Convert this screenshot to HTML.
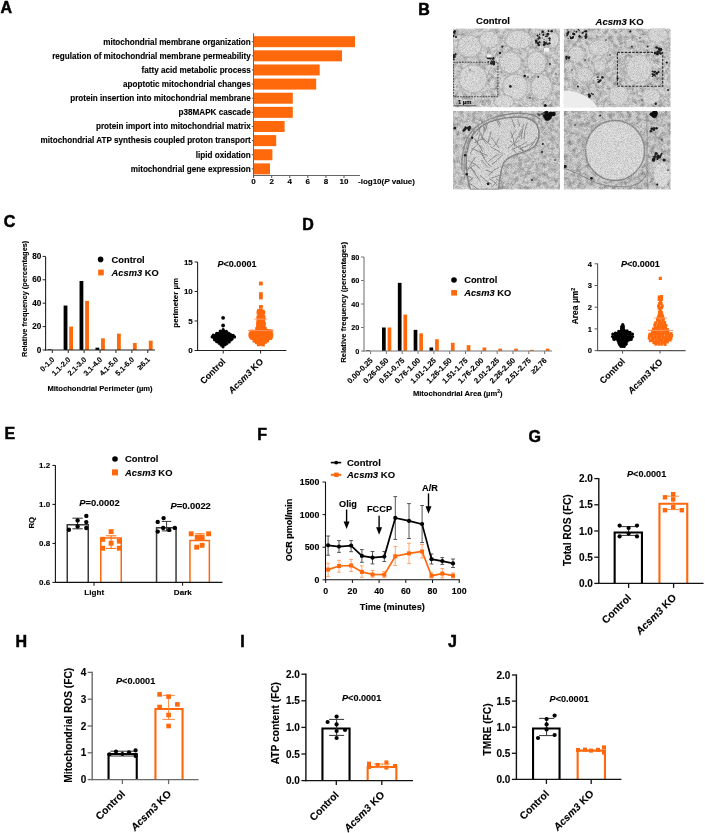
<!DOCTYPE html>
<html><head><meta charset="utf-8"><title>Figure</title>
<style>
html,body{margin:0;padding:0;background:#fff;}
body{width:705px;height:833px;overflow:hidden;}
svg{display:block;font-family:"Liberation Sans", sans-serif;will-change:transform;filter:blur(0.35px);}
text:not([stroke]){stroke:#000;stroke-width:0.12px;}
</style></head>
<body>
<svg width="705" height="833" viewBox="0 0 705 833">
<rect x="0" y="0" width="705" height="833" fill="#fff"/>
<text x="0.50" y="12.60" font-size="16" font-weight="bold" text-anchor="start" fill="#000" stroke="#000" stroke-width="0.5">A</text>
<text x="418.20" y="15.10" font-size="16" font-weight="bold" text-anchor="start" fill="#000" stroke="#000" stroke-width="0.5">B</text>
<text x="3.80" y="226.50" font-size="16" font-weight="bold" text-anchor="start" fill="#000" stroke="#000" stroke-width="0.5">C</text>
<text x="302.30" y="230.20" font-size="16" font-weight="bold" text-anchor="start" fill="#000" stroke="#000" stroke-width="0.5">D</text>
<text x="4.60" y="439.00" font-size="16" font-weight="bold" text-anchor="start" fill="#000" stroke="#000" stroke-width="0.5">E</text>
<text x="257.30" y="440.00" font-size="16" font-weight="bold" text-anchor="start" fill="#000" stroke="#000" stroke-width="0.5">F</text>
<text x="528.60" y="442.00" font-size="16" font-weight="bold" text-anchor="start" fill="#000" stroke="#000" stroke-width="0.5">G</text>
<text x="15.60" y="647.40" font-size="16" font-weight="bold" text-anchor="start" fill="#000" stroke="#000" stroke-width="0.5">H</text>
<text x="240.20" y="647.20" font-size="16" font-weight="bold" text-anchor="start" fill="#000" stroke="#000" stroke-width="0.5">I</text>
<text x="448.00" y="647.40" font-size="16" font-weight="bold" text-anchor="start" fill="#000" stroke="#000" stroke-width="0.5">J</text>
<rect x="254.00" y="36.20" width="101.00" height="11.00" fill="#FF680B"/>
<text x="250.80" y="44.50" font-size="8.15" font-weight="bold" text-anchor="end" fill="#000">mitochondrial membrane organization</text>
<line x1="251.80" y1="41.70" x2="253.50" y2="41.70" stroke="#555" stroke-width="1.0"/>
<rect x="254.00" y="50.33" width="88.00" height="11.00" fill="#FF680B"/>
<text x="250.80" y="58.63" font-size="8.15" font-weight="bold" text-anchor="end" fill="#000">regulation of mitochondrial membrane permeability</text>
<line x1="251.80" y1="55.83" x2="253.50" y2="55.83" stroke="#555" stroke-width="1.0"/>
<rect x="254.00" y="64.46" width="65.70" height="11.00" fill="#FF680B"/>
<text x="250.80" y="72.76" font-size="8.15" font-weight="bold" text-anchor="end" fill="#000">fatty acid metabolic process</text>
<line x1="251.80" y1="69.96" x2="253.50" y2="69.96" stroke="#555" stroke-width="1.0"/>
<rect x="254.00" y="78.59" width="62.20" height="11.00" fill="#FF680B"/>
<text x="250.80" y="86.89" font-size="8.15" font-weight="bold" text-anchor="end" fill="#000">apoptotic mitochondrial changes</text>
<line x1="251.80" y1="84.09" x2="253.50" y2="84.09" stroke="#555" stroke-width="1.0"/>
<rect x="254.00" y="92.72" width="38.80" height="11.00" fill="#FF680B"/>
<text x="250.80" y="101.02" font-size="8.15" font-weight="bold" text-anchor="end" fill="#000">protein insertion into mitochondrial membrane</text>
<line x1="251.80" y1="98.22" x2="253.50" y2="98.22" stroke="#555" stroke-width="1.0"/>
<rect x="254.00" y="106.85" width="38.80" height="11.00" fill="#FF680B"/>
<text x="250.80" y="115.15" font-size="8.15" font-weight="bold" text-anchor="end" fill="#000">p38MAPK cascade</text>
<line x1="251.80" y1="112.35" x2="253.50" y2="112.35" stroke="#555" stroke-width="1.0"/>
<rect x="254.00" y="120.98" width="30.60" height="11.00" fill="#FF680B"/>
<text x="250.80" y="129.28" font-size="8.15" font-weight="bold" text-anchor="end" fill="#000">protein import into mitochondrial matrix</text>
<line x1="251.80" y1="126.48" x2="253.50" y2="126.48" stroke="#555" stroke-width="1.0"/>
<rect x="254.00" y="135.11" width="22.20" height="11.00" fill="#FF680B"/>
<text x="250.80" y="143.41" font-size="8.15" font-weight="bold" text-anchor="end" fill="#000">mitochondrial ATP synthesis coupled proton transport</text>
<line x1="251.80" y1="140.61" x2="253.50" y2="140.61" stroke="#555" stroke-width="1.0"/>
<rect x="254.00" y="149.24" width="18.40" height="11.00" fill="#FF680B"/>
<text x="250.80" y="157.54" font-size="8.15" font-weight="bold" text-anchor="end" fill="#000">lipid oxidation</text>
<line x1="251.80" y1="154.74" x2="253.50" y2="154.74" stroke="#555" stroke-width="1.0"/>
<rect x="254.00" y="163.37" width="16.00" height="11.00" fill="#FF680B"/>
<text x="250.80" y="171.67" font-size="8.15" font-weight="bold" text-anchor="end" fill="#000">mitochondrial gene expression</text>
<line x1="251.80" y1="168.87" x2="253.50" y2="168.87" stroke="#555" stroke-width="1.0"/>
<line x1="253.50" y1="33.30" x2="253.50" y2="177.00" stroke="#666" stroke-width="1.0"/>
<line x1="253.00" y1="175.50" x2="360.00" y2="175.50" stroke="#666" stroke-width="1.0"/>
<line x1="253.60" y1="175.50" x2="253.60" y2="178.00" stroke="#555" stroke-width="1.0"/>
<text x="253.60" y="184.40" font-size="8.0" font-weight="bold" text-anchor="middle" fill="#000">0</text>
<line x1="271.68" y1="175.50" x2="271.68" y2="178.00" stroke="#555" stroke-width="1.0"/>
<text x="271.68" y="184.40" font-size="8.0" font-weight="bold" text-anchor="middle" fill="#000">2</text>
<line x1="289.76" y1="175.50" x2="289.76" y2="178.00" stroke="#555" stroke-width="1.0"/>
<text x="289.76" y="184.40" font-size="8.0" font-weight="bold" text-anchor="middle" fill="#000">4</text>
<line x1="307.84" y1="175.50" x2="307.84" y2="178.00" stroke="#555" stroke-width="1.0"/>
<text x="307.84" y="184.40" font-size="8.0" font-weight="bold" text-anchor="middle" fill="#000">6</text>
<line x1="325.92" y1="175.50" x2="325.92" y2="178.00" stroke="#555" stroke-width="1.0"/>
<text x="325.92" y="184.40" font-size="8.0" font-weight="bold" text-anchor="middle" fill="#000">8</text>
<line x1="344.00" y1="175.50" x2="344.00" y2="178.00" stroke="#555" stroke-width="1.0"/>
<text x="344.00" y="184.40" font-size="8.0" font-weight="bold" text-anchor="middle" fill="#000">10</text>
<text x="358.00" y="184.40" font-size="8.0" font-weight="bold" text-anchor="start" fill="#000">-log10(<tspan font-style="italic">P</tspan> value)</text>
<text x="493.00" y="24.40" font-size="9.5" font-weight="bold" text-anchor="middle" fill="#000">Control</text>
<text x="619.60" y="24.60" font-size="9.5" font-weight="bold" text-anchor="middle" fill="#000"><tspan font-style="italic">Acsm3</tspan> KO</text>
<defs>
<filter id="tex1" x="0" y="0" width="100%" height="100%" color-interpolation-filters="sRGB">
<feTurbulence type="fractalNoise" baseFrequency="0.22" numOctaves="3" seed="7"/>
<feColorMatrix type="matrix" values="0 0 0 0 0  0 0 0 0 0  0 0 0 0 0  1.6 0 0 0 -0.62"/>
</filter>
<filter id="tex2" x="0" y="0" width="100%" height="100%" color-interpolation-filters="sRGB">
<feTurbulence type="fractalNoise" baseFrequency="1.3" numOctaves="1" seed="11"/>
<feColorMatrix type="matrix" values="0 0 0 0 0  0 0 0 0 0  0 0 0 0 0  1.4 0 0 0 -0.52"/>
</filter>
<filter id="tex3" x="0" y="0" width="100%" height="100%" color-interpolation-filters="sRGB">
<feTurbulence type="fractalNoise" baseFrequency="0.5" numOctaves="2" seed="23"/>
<feColorMatrix type="matrix" values="0 0 0 0 1  0 0 0 0 1  0 0 0 0 1  1.5 0 0 0 -0.62"/>
</filter>
<filter id="bl" x="-50%" y="-50%" width="200%" height="200%"><feGaussianBlur stdDeviation="0.6"/></filter>
<filter id="bs" x="-50%" y="-50%" width="200%" height="200%"><feGaussianBlur stdDeviation="0.45"/></filter>
<filter id="bl2" x="-50%" y="-50%" width="200%" height="200%"><feGaussianBlur stdDeviation="1.4"/></filter>
<filter id="bl3" x="-50%" y="-50%" width="200%" height="200%"><feGaussianBlur stdDeviation="2.5"/></filter>
<clipPath id="cTL"><rect x="453" y="28.5" width="107" height="78.7"/></clipPath>
<clipPath id="cTR"><rect x="563.8" y="28.5" width="106.8" height="78.7"/></clipPath>
<clipPath id="cBL"><rect x="453" y="110.9" width="107" height="78.6"/></clipPath>
<clipPath id="cBR"><rect x="563.8" y="110.9" width="106.8" height="78.6"/></clipPath>
</defs>
<g clip-path="url(#cTL)">
<rect x="453.00" y="28.50" width="107.00" height="78.70" fill="#dddddd"/>
<rect x="453" y="28.5" width="107" height="78.7" fill="#000" opacity="0.42" filter="url(#tex1)"/>
<g filter="url(#bl)"><ellipse cx="469.6" cy="46.2" rx="12.0" ry="11.0" fill="#dfdfdf" stroke="#c0c0c0" stroke-width="1.3"/><ellipse cx="489.2" cy="39.7" rx="10.0" ry="8.5" fill="#dfdfdf" stroke="#c0c0c0" stroke-width="1.3"/><ellipse cx="518.5" cy="39.7" rx="13.0" ry="9.5" fill="#dfdfdf" stroke="#c0c0c0" stroke-width="1.3"/><ellipse cx="510.4" cy="62.5" rx="11.0" ry="11.0" fill="#dfdfdf" stroke="#c0c0c0" stroke-width="1.3"/><ellipse cx="536.5" cy="62.5" rx="9.5" ry="11.5" fill="#dfdfdf" stroke="#c0c0c0" stroke-width="1.3"/><ellipse cx="472.8" cy="78.8" rx="14.0" ry="14.0" fill="#dfdfdf" stroke="#c0c0c0" stroke-width="1.3"/><ellipse cx="515.3" cy="87.0" rx="12.5" ry="13.0" fill="#dfdfdf" stroke="#c0c0c0" stroke-width="1.3"/><ellipse cx="541.4" cy="87.0" rx="10.5" ry="12.5" fill="#dfdfdf" stroke="#c0c0c0" stroke-width="1.3"/><ellipse cx="503.8" cy="101.7" rx="10.0" ry="7.0" fill="#dfdfdf" stroke="#c0c0c0" stroke-width="1.3"/><ellipse cx="553.0" cy="40.0" rx="6.0" ry="8.0" fill="#dfdfdf" stroke="#c0c0c0" stroke-width="1.3"/></g><g filter="url(#bl)"><ellipse cx="473.0" cy="79.0" rx="8.0" ry="8.0" fill="none" stroke="#d2d2d2" stroke-width="1.0"/><ellipse cx="470.0" cy="46.0" rx="6.0" ry="5.0" fill="none" stroke="#d2d2d2" stroke-width="1.0"/></g>
<rect x="453" y="28.5" width="107" height="78.7" fill="#000" opacity="0.34" filter="url(#tex2)"/>
<rect x="453" y="28.5" width="107" height="78.7" fill="#fff" opacity="0.25" filter="url(#tex3)"/>
<g filter="url(#bs)" fill="#1e1e1e"><circle cx="537.8" cy="42.9" r="1.2"/><circle cx="539.8" cy="37.9" r="0.9"/><circle cx="546.6" cy="42.0" r="0.6"/><circle cx="536.0" cy="42.7" r="0.9"/><circle cx="548.5" cy="31.0" r="0.9"/><circle cx="547.8" cy="34.2" r="1.4"/><circle cx="550.8" cy="31.4" r="0.5"/><circle cx="544.7" cy="44.1" r="0.8"/><circle cx="539.2" cy="36.9" r="0.5"/><circle cx="539.3" cy="37.1" r="0.9"/><circle cx="539.5" cy="34.2" r="0.7"/><circle cx="543.3" cy="35.1" r="0.5"/><circle cx="549.7" cy="38.8" r="1.1"/><circle cx="538.7" cy="44.9" r="1.3"/><circle cx="537.6" cy="35.7" r="1.1"/><circle cx="547.6" cy="44.1" r="0.9"/><circle cx="549.6" cy="40.4" r="0.8"/><circle cx="545.5" cy="43.4" r="1.3"/><circle cx="544.1" cy="39.2" r="0.5"/><circle cx="539.6" cy="42.2" r="0.9"/><circle cx="538.4" cy="38.7" r="1.1"/><circle cx="547.0" cy="36.2" r="0.9"/><circle cx="544.1" cy="41.9" r="1.0"/><circle cx="542.2" cy="37.9" r="0.5"/><circle cx="536.2" cy="40.8" r="1.4"/><circle cx="545.6" cy="36.5" r="0.7"/><circle cx="544.0" cy="44.7" r="1.2"/><circle cx="544.7" cy="43.0" r="0.7"/><circle cx="544.2" cy="44.3" r="1.0"/><circle cx="543.3" cy="34.8" r="1.0"/><circle cx="551.8" cy="31.1" r="1.2"/><circle cx="549.4" cy="43.4" r="1.2"/><circle cx="549.3" cy="38.3" r="1.0"/><circle cx="542.7" cy="31.8" r="1.3"/></g><g filter="url(#bs)" fill="#1e1e1e"><circle cx="455.9" cy="37.0" r="0.6"/><circle cx="453.3" cy="36.0" r="1.2"/><circle cx="455.0" cy="31.3" r="1.1"/><circle cx="454.8" cy="33.7" r="0.7"/><circle cx="454.3" cy="32.0" r="1.2"/><circle cx="456.0" cy="37.0" r="1.0"/><circle cx="454.3" cy="30.9" r="0.6"/><circle cx="453.1" cy="32.7" r="0.9"/></g><g filter="url(#bs)" fill="#1e1e1e"><circle cx="453.7" cy="54.9" r="0.9"/><circle cx="454.8" cy="55.8" r="0.7"/><circle cx="453.0" cy="57.9" r="0.8"/><circle cx="453.7" cy="59.5" r="1.0"/><circle cx="455.5" cy="54.3" r="1.1"/><circle cx="453.5" cy="55.8" r="1.3"/><circle cx="454.6" cy="56.9" r="1.1"/><circle cx="453.2" cy="57.1" r="1.1"/></g><g filter="url(#bs)" fill="#1e1e1e"><circle cx="488.4" cy="58.3" r="1.0"/><circle cx="487.7" cy="58.0" r="1.0"/><circle cx="493.8" cy="63.9" r="1.3"/><circle cx="488.3" cy="61.8" r="0.8"/><circle cx="487.9" cy="58.3" r="0.8"/><circle cx="493.9" cy="64.1" r="1.3"/><circle cx="492.9" cy="59.0" r="0.9"/><circle cx="491.5" cy="63.4" r="1.4"/><circle cx="493.5" cy="58.2" r="1.1"/><circle cx="491.9" cy="61.5" r="0.8"/><circle cx="490.3" cy="58.2" r="1.4"/><circle cx="493.4" cy="61.9" r="0.9"/><circle cx="493.8" cy="62.1" r="1.4"/><circle cx="493.3" cy="61.6" r="1.0"/><circle cx="491.3" cy="60.9" r="0.7"/><circle cx="488.9" cy="64.0" r="0.6"/></g><g filter="url(#bs)" fill="#1a1a1a"><circle cx="502.4" cy="46.6" r="1.1"/><circle cx="500.0" cy="53.0" r="1.2"/><circle cx="524.7" cy="76.0" r="1.3"/><circle cx="510.4" cy="86.4" r="1.3"/><circle cx="545.3" cy="105.4" r="1.5"/><circle cx="550.0" cy="64.0" r="0.9"/><circle cx="538.2" cy="76.8" r="0.9"/><circle cx="470.0" cy="70.0" r="0.6"/><circle cx="530.0" cy="98.0" r="0.7"/><circle cx="528.0" cy="77.0" r="0.8"/><circle cx="556.0" cy="74.0" r="0.7"/></g><g filter="url(#bl)" fill="#f4f4f4"><rect x="544" y="48" width="5" height="3.5"/><rect x="487" y="54.5" width="4.5" height="3"/></g>
</g>
<rect x="453.6" y="62.3" width="44.3" height="34.4" fill="none" stroke="#3c3c3c" stroke-width="0.9" stroke-dasharray="1.7,1.1"/>
<text x="458.00" y="104.00" font-size="5.8" font-weight="bold" text-anchor="start" fill="#000">1 µm</text>
<line x1="453.50" y1="105.60" x2="476.00" y2="105.60" stroke="#777" stroke-width="1.3"/>
<g clip-path="url(#cTR)">
<rect x="563.80" y="28.50" width="106.80" height="78.70" fill="#dbdbdb"/>
<rect x="563.8" y="28.5" width="106.8" height="78.7" fill="#000" opacity="0.42" filter="url(#tex1)"/>
<g filter="url(#bl)"><ellipse cx="639.1" cy="69.0" rx="12.5" ry="14.0" fill="#dddddd" stroke="#c4c4c4" stroke-width="1.1"/><ellipse cx="599.1" cy="47.8" rx="10.0" ry="8.0" fill="#dddddd" stroke="#c4c4c4" stroke-width="1.1"/><ellipse cx="618.7" cy="95.2" rx="10.0" ry="10.0" fill="#dddddd" stroke="#c4c4c4" stroke-width="1.1"/><ellipse cx="651.3" cy="96.8" rx="9.0" ry="8.0" fill="#dddddd" stroke="#c4c4c4" stroke-width="1.1"/><ellipse cx="657.9" cy="34.8" rx="10.0" ry="8.0" fill="#dddddd" stroke="#c4c4c4" stroke-width="1.1"/><ellipse cx="576.3" cy="54.4" rx="8.0" ry="8.0" fill="#dddddd" stroke="#c4c4c4" stroke-width="1.1"/><ellipse cx="585.0" cy="75.0" rx="8.0" ry="7.0" fill="#dddddd" stroke="#c4c4c4" stroke-width="1.1"/><ellipse cx="600.0" cy="66.0" rx="6.0" ry="6.0" fill="#dddddd" stroke="#c4c4c4" stroke-width="1.1"/></g><path d="M617,56 C620,64 622,74 626,83" fill="none" stroke="#bbbbbb" stroke-width="2.5" filter="url(#bl2)"/>
<rect x="563.8" y="28.5" width="106.8" height="78.7" fill="#000" opacity="0.34" filter="url(#tex2)"/>
<rect x="563.8" y="28.5" width="106.8" height="78.7" fill="#fff" opacity="0.25" filter="url(#tex3)"/>
<g filter="url(#bs)" fill="#1e1e1e"><circle cx="579.5" cy="36.2" r="1.2"/><circle cx="585.8" cy="36.2" r="1.3"/><circle cx="567.6" cy="33.7" r="1.4"/><circle cx="580.0" cy="37.6" r="0.7"/><circle cx="576.4" cy="31.7" r="1.0"/><circle cx="578.5" cy="29.6" r="0.8"/><circle cx="572.6" cy="37.7" r="1.2"/><circle cx="570.2" cy="36.7" r="0.7"/><circle cx="579.3" cy="30.6" r="0.6"/><circle cx="584.4" cy="31.4" r="0.8"/><circle cx="586.6" cy="37.4" r="0.8"/><circle cx="586.2" cy="34.4" r="1.1"/><circle cx="571.1" cy="38.0" r="1.2"/><circle cx="586.3" cy="37.5" r="0.8"/><circle cx="574.2" cy="31.0" r="0.7"/><circle cx="568.3" cy="32.2" r="1.1"/><circle cx="567.1" cy="35.6" r="0.9"/><circle cx="573.2" cy="36.9" r="1.0"/><circle cx="573.3" cy="33.8" r="1.2"/><circle cx="568.1" cy="38.3" r="0.6"/><circle cx="582.0" cy="37.1" r="0.6"/><circle cx="582.8" cy="32.8" r="1.1"/><circle cx="567.2" cy="29.9" r="0.7"/><circle cx="586.1" cy="31.3" r="1.2"/><circle cx="585.6" cy="38.0" r="0.9"/><circle cx="574.1" cy="34.2" r="1.2"/></g><g filter="url(#bs)" fill="#1e1e1e"><circle cx="660.8" cy="53.3" r="1.1"/><circle cx="656.6" cy="47.5" r="1.3"/><circle cx="658.3" cy="52.8" r="1.0"/><circle cx="660.7" cy="49.4" r="1.4"/><circle cx="660.3" cy="50.4" r="1.1"/><circle cx="660.0" cy="48.9" r="1.2"/><circle cx="660.9" cy="49.4" r="1.4"/><circle cx="660.0" cy="53.4" r="0.9"/><circle cx="655.2" cy="53.1" r="1.4"/><circle cx="658.1" cy="48.2" r="0.8"/><circle cx="659.6" cy="49.5" r="1.6"/><circle cx="659.2" cy="48.9" r="1.3"/><circle cx="657.4" cy="54.0" r="1.5"/><circle cx="658.6" cy="52.0" r="1.3"/><circle cx="660.9" cy="54.3" r="0.6"/><circle cx="657.4" cy="51.7" r="0.9"/></g><g filter="url(#bs)" fill="#1e1e1e"><circle cx="654.6" cy="71.9" r="1.1"/><circle cx="652.6" cy="74.2" r="0.9"/><circle cx="652.5" cy="74.0" r="0.6"/><circle cx="655.5" cy="71.4" r="0.7"/><circle cx="655.4" cy="76.0" r="0.7"/><circle cx="653.8" cy="74.8" r="1.4"/><circle cx="656.6" cy="73.4" r="1.4"/><circle cx="652.4" cy="76.2" r="0.8"/><circle cx="653.2" cy="71.7" r="0.8"/><circle cx="658.5" cy="72.1" r="1.1"/><circle cx="657.1" cy="73.2" r="1.0"/><circle cx="652.5" cy="71.4" r="0.8"/></g><g filter="url(#bs)" fill="#1e1e1e"><circle cx="599.8" cy="80.9" r="1.1"/><circle cx="597.9" cy="77.1" r="0.9"/><circle cx="598.6" cy="81.9" r="1.2"/><circle cx="600.6" cy="80.3" r="1.1"/><circle cx="597.9" cy="79.6" r="0.7"/><circle cx="602.4" cy="77.4" r="1.3"/></g><g filter="url(#bs)" fill="#1e1e1e"><circle cx="589.6" cy="96.9" r="1.1"/><circle cx="593.1" cy="94.4" r="0.8"/><circle cx="588.9" cy="94.6" r="1.2"/><circle cx="588.8" cy="96.2" r="0.8"/><circle cx="589.8" cy="95.7" r="1.3"/><circle cx="591.7" cy="93.6" r="0.8"/></g><g filter="url(#bs)" fill="#1e1e1e"><circle cx="566.4" cy="58.8" r="1.1"/><circle cx="569.8" cy="57.1" r="0.8"/><circle cx="568.9" cy="58.6" r="0.8"/><circle cx="568.7" cy="57.6" r="1.2"/><circle cx="566.5" cy="56.9" r="1.3"/></g><g filter="url(#bs)" fill="#1a1a1a"><circle cx="630.3" cy="31.6" r="1.1"/><circle cx="666.8" cy="62.5" r="1.1"/><circle cx="577.9" cy="86.4" r="1.0"/><circle cx="617.6" cy="78.4" r="1.1"/><circle cx="631.9" cy="46.6" r="0.9"/><circle cx="647.7" cy="46.6" r="0.9"/><circle cx="655.7" cy="103.8" r="1.2"/><circle cx="585.0" cy="60.0" r="0.7"/><circle cx="642.0" cy="100.0" r="0.7"/><circle cx="668.0" cy="90.0" r="0.9"/><circle cx="610.0" cy="55.0" r="0.7"/><circle cx="572.0" cy="70.0" r="0.7"/><circle cx="606.0" cy="40.0" r="0.7"/><circle cx="640.0" cy="38.0" r="0.7"/></g><path d="M563.8,90.5 C572,90.5 582,93 589,98.5 C593,101.5 596,104.5 598,108 L563.8,108 Z" fill="#ededed" filter="url(#bl)"/>
</g>
<rect x="617.4" y="52.4" width="45.3" height="33.9" fill="none" stroke="#2a2a2a" stroke-width="1.1" stroke-dasharray="2.4,1.3"/>
<clipPath id="cMito"><path d="M470.6,189.5 C467,180 465.5,162 466.7,153.7 C468,145 470,140 472,136 C476,130 482,125 489.7,121.9 C496,119.5 505,117.5 516,117 C526,116.8 534,119 537.5,126 C540,132 539.5,139 535.5,145.5 C531,150 524,152 516,154.5 C510,156.5 506,159 503.5,163.5 C501,168 500,176 498.5,189.5 Z"/></clipPath>
<g clip-path="url(#cBL)">
<rect x="453.00" y="110.90" width="107.00" height="78.60" fill="#d8d8d8"/>
<rect x="453" y="110.9" width="107" height="78.6" fill="#000" opacity="0.42" filter="url(#tex1)"/>

<g filter="url(#bl)">
<path d="M470.6,189.5 C467,180 465.5,162 466.7,153.7 C468,145 470,140 472,136 C476,130 482,125 489.7,121.9 C496,119.5 505,117.5 516,117 C526,116.8 534,119 537.5,126 C540,132 539.5,139 535.5,145.5 C531,150 524,152 516,154.5 C510,156.5 506,159 503.5,163.5 C501,168 500,176 498.5,189.5 Z" fill="#dcdcdc"/>
<g clip-path="url(#cMito)" stroke="#8c8c8c" stroke-width="0.9" fill="none"><path d="M508.2,114.3 Q513.0,119.1 514.7,127.2"/><path d="M493.6,115.3 Q497.6,121.9 499.8,126.9"/><path d="M490.2,146.7 Q495.9,149.1 502.8,154.2"/><path d="M536.9,136.9 Q534.3,143.5 529.3,148.2"/><path d="M499.2,153.8 Q494.6,155.8 488.3,161.5"/><path d="M480.5,134.5 Q483.3,140.6 486.5,144.0"/><path d="M474.4,138.9 Q477.7,144.8 483.7,148.9"/><path d="M475.4,139.3 Q480.5,146.7 482.8,151.8"/><path d="M479.9,113.6 Q483.8,122.1 487.2,128.9"/><path d="M479.6,149.9 Q481.4,154.2 485.3,158.0"/><path d="M480.8,152.5 Q484.4,159.9 490.9,167.4"/><path d="M480.6,125.0 Q480.4,130.3 476.2,135.4"/><path d="M474.8,164.6 Q468.1,168.6 462.7,174.3"/><path d="M477.3,113.1 Q477.2,119.7 480.2,125.3"/><path d="M519.5,151.5 Q526.3,154.7 530.9,157.6"/><path d="M472.5,139.8 Q467.0,142.0 463.6,143.6"/><path d="M470.8,166.9 Q473.3,170.4 475.9,173.6"/><path d="M480.1,175.6 Q485.6,180.8 492.0,184.5"/><path d="M489.2,178.7 Q493.7,180.9 497.6,185.3"/><path d="M480.7,116.1 Q481.3,122.9 485.3,131.9"/><path d="M516.1,129.9 Q513.4,133.6 510.9,138.0"/><path d="M468.5,161.1 Q476.4,163.5 480.4,169.2"/><path d="M491.6,137.5 Q493.9,141.5 499.1,148.0"/><path d="M496.0,178.7 Q501.5,181.6 502.9,181.7"/><path d="M527.4,122.3 Q524.4,128.7 524.0,138.9"/><path d="M497.4,180.6 Q493.7,185.7 491.7,187.1"/><path d="M517.7,119.4 Q518.9,124.4 520.0,126.6"/><path d="M471.6,117.2 Q470.8,122.1 473.7,130.4"/><path d="M490.9,131.8 Q490.2,136.5 488.1,142.8"/><path d="M485.9,170.1 Q488.4,170.7 493.1,173.1"/><path d="M533.9,141.8 Q529.7,145.5 521.7,147.9"/><path d="M464.3,173.6 Q470.1,177.2 472.7,178.8"/><path d="M480.2,132.7 Q477.6,140.4 476.9,144.8"/><path d="M475.5,156.8 Q472.0,162.4 467.4,170.0"/><path d="M493.6,114.2 Q498.4,120.0 500.6,125.1"/><path d="M474.4,120.3 Q476.9,126.9 481.7,135.5"/><path d="M470.1,166.5 Q473.9,172.3 479.9,180.7"/><path d="M523.8,123.7 Q522.0,132.1 521.0,139.1"/><path d="M521.6,128.9 Q519.4,135.3 514.3,143.8"/><path d="M519.5,148.7 Q524.2,150.8 527.5,153.7"/><path d="M488.9,116.9 Q488.3,123.2 485.0,130.8"/><path d="M472.8,178.2 Q470.3,179.8 466.9,182.6"/><path d="M519.0,145.3 Q522.3,147.6 524.0,153.8"/><path d="M519.4,140.7 Q514.3,143.0 507.8,148.3"/><path d="M533.7,149.7 Q528.0,155.2 524.7,159.3"/><path d="M499.0,167.4 Q491.8,170.5 488.6,175.3"/><path d="M502.6,154.8 Q497.3,160.8 491.8,164.4"/><path d="M510.7,131.1 Q513.8,139.6 514.9,146.6"/><path d="M484.7,126.2 Q484.3,132.8 481.8,139.6"/><path d="M510.0,140.9 Q518.3,147.4 523.7,150.8"/><path d="M522.6,130.9 Q519.9,135.7 519.3,137.7"/><path d="M507.2,172.0 Q500.6,175.5 490.9,178.2"/><path d="M512.4,148.3 Q516.8,153.4 521.5,160.4"/><path d="M481.6,159.8 Q483.1,162.8 488.0,167.5"/><path d="M482.3,137.7 Q485.1,140.2 490.7,145.1"/><path d="M499.2,137.4 Q497.3,143.9 493.2,146.9"/><path d="M473.2,177.3 Q468.9,182.2 465.4,184.0"/><path d="M533.1,149.7 Q529.8,152.8 525.0,156.7"/><path d="M471.5,148.1 Q479.6,152.4 486.9,155.3"/><path d="M477.1,144.6 Q472.6,148.3 470.3,153.4"/><path d="M527.0,141.9 Q519.6,146.5 512.5,149.2"/><path d="M464.9,181.9 Q473.3,184.4 478.2,189.3"/><path d="M466.2,124.5 Q468.4,129.1 472.5,134.8"/><path d="M484.4,138.6 Q480.0,139.1 473.9,143.0"/></g>
<path d="M470.6,189.5 C467,180 465.5,162 466.7,153.7 C468,145 470,140 472,136 C476,130 482,125 489.7,121.9 C496,119.5 505,117.5 516,117 C526,116.8 534,119 537.5,126 C540,132 539.5,139 535.5,145.5 C531,150 524,152 516,154.5 C510,156.5 506,159 503.5,163.5 C501,168 500,176 498.5,189.5 Z" fill="none" stroke="#8a8a8a" stroke-width="1.5"/>
<path d="M462,170 C461,150 466,136 476,127 C486,119 500,114 518,113.2 C530,113 538,116 542,121" fill="none" stroke="#8e8e8e" stroke-width="1.2"/>
<path d="M464.5,178 C463,160 466,145 470,138" fill="none" stroke="#9a9a9a" stroke-width="1"/>
<path d="M505,160 C515,170 530,175 545,172 C552,170 556,165 558,160" fill="none" stroke="#bbbbbb" stroke-width="1"/>
<ellipse cx="548" cy="165" rx="10" ry="14" fill="none" stroke="#c6c6c6" stroke-width="1"/>
</g>

<rect x="453" y="110.9" width="107" height="78.6" fill="#000" opacity="0.34" filter="url(#tex2)"/>
<rect x="453" y="110.9" width="107" height="78.6" fill="#fff" opacity="0.25" filter="url(#tex3)"/>
<g filter="url(#bs)" fill="#111"><circle cx="546.5" cy="119.2" r="1.6"/><circle cx="550.8" cy="113.1" r="1.7"/><circle cx="553.5" cy="114.0" r="2.3"/><circle cx="548.6" cy="115.7" r="2.1"/><circle cx="546.2" cy="118.3" r="1.5"/><circle cx="546.6" cy="112.6" r="1.8"/><circle cx="548.2" cy="118.8" r="1.9"/><circle cx="545.5" cy="114.3" r="2.8"/><circle cx="545.1" cy="116.8" r="1.9"/><circle cx="550.4" cy="114.9" r="2.4"/><circle cx="549.0" cy="117.0" r="2.7"/><circle cx="549.7" cy="113.5" r="1.5"/></g><g filter="url(#bs)" fill="#555"><circle cx="538.9" cy="114.9" r="0.9"/><circle cx="539.6" cy="114.5" r="1.1"/><circle cx="538.1" cy="115.8" r="0.6"/><circle cx="538.4" cy="114.0" r="0.7"/><circle cx="541.9" cy="113.9" r="1.2"/><circle cx="543.6" cy="113.5" r="1.2"/><circle cx="542.5" cy="116.0" r="0.6"/><circle cx="539.7" cy="115.8" r="0.8"/><circle cx="537.8" cy="113.9" r="0.8"/><circle cx="542.3" cy="114.1" r="0.9"/></g><g filter="url(#bs)" fill="#1e1e1e"><circle cx="469.7" cy="127.0" r="1.2"/><circle cx="463.3" cy="130.9" r="0.6"/><circle cx="469.0" cy="129.7" r="1.3"/><circle cx="470.0" cy="128.0" r="0.9"/><circle cx="467.7" cy="128.1" r="0.8"/><circle cx="463.8" cy="130.4" r="1.3"/><circle cx="468.4" cy="127.9" r="1.3"/><circle cx="466.1" cy="127.9" r="1.0"/><circle cx="465.4" cy="127.3" r="1.1"/><circle cx="464.9" cy="129.3" r="1.3"/></g><g filter="url(#bs)" fill="#1a1a1a"><circle cx="454.8" cy="128.2" r="1.4"/><circle cx="472.2" cy="137.8" r="1.2"/><circle cx="465.1" cy="155.2" r="1.2"/><circle cx="466.7" cy="174.3" r="1.2"/><circle cx="488.1" cy="183.8" r="1.4"/><circle cx="542.9" cy="144.1" r="1.0"/><circle cx="542.1" cy="152.0" r="0.9"/><circle cx="532.0" cy="180.0" r="0.9"/><circle cx="555.0" cy="160.0" r="0.8"/></g>
</g>
<g clip-path="url(#cBR)">
<rect x="563.80" y="110.90" width="106.80" height="78.60" fill="#d6d6d6"/>
<rect x="563.8" y="110.9" width="106.8" height="78.6" fill="#000" opacity="0.42" filter="url(#tex1)"/>

<g filter="url(#bl)">
<ellipse cx="615" cy="150.5" rx="29.5" ry="30" fill="#e0e0e0" stroke="#8e8e8e" stroke-width="1.3"/>
<path d="M563,168 C572,170 582,176 592,181 C602,186 618,188 632,186 C640,184 646,178 648,170" fill="none" stroke="#939393" stroke-width="1.1"/>
<path d="M646,113 C649,135 645,160 648,190" fill="none" stroke="#9c9c9c" stroke-width="1.1"/>
<path d="M575,112 C578,130 584,142 586,150" fill="none" stroke="#bababa" stroke-width="0.9"/>
<ellipse cx="662" cy="175" rx="8" ry="12" fill="#e3e3e3"/>
</g>

<rect x="563.8" y="110.9" width="106.8" height="78.6" fill="#000" opacity="0.34" filter="url(#tex2)"/>
<rect x="563.8" y="110.9" width="106.8" height="78.6" fill="#fff" opacity="0.25" filter="url(#tex3)"/>
<g filter="url(#bs)" fill="#111"><circle cx="653.1" cy="114.9" r="2.0"/><circle cx="655.1" cy="113.0" r="2.4"/><circle cx="655.3" cy="113.4" r="2.5"/><circle cx="653.9" cy="113.2" r="2.3"/><circle cx="654.3" cy="115.3" r="2.7"/><circle cx="651.6" cy="114.2" r="1.9"/></g><g filter="url(#bs)" fill="#1e1e1e"><circle cx="653.5" cy="129.7" r="1.1"/><circle cx="650.9" cy="131.3" r="1.3"/><circle cx="654.1" cy="128.6" r="1.0"/><circle cx="651.8" cy="129.0" r="1.4"/><circle cx="656.5" cy="128.2" r="1.3"/><circle cx="653.7" cy="129.5" r="0.8"/><circle cx="654.2" cy="129.8" r="1.1"/><circle cx="654.1" cy="128.5" r="1.2"/></g><g filter="url(#bs)" fill="#1e1e1e"><circle cx="658.0" cy="156.9" r="1.7"/><circle cx="658.1" cy="156.6" r="1.3"/><circle cx="655.0" cy="156.6" r="1.4"/><circle cx="661.7" cy="153.7" r="1.0"/><circle cx="654.0" cy="158.7" r="1.5"/><circle cx="653.5" cy="159.9" r="1.8"/><circle cx="660.2" cy="157.3" r="0.9"/><circle cx="653.2" cy="156.7" r="0.8"/><circle cx="655.1" cy="154.7" r="0.7"/><circle cx="658.1" cy="156.1" r="1.6"/><circle cx="658.7" cy="157.5" r="1.2"/><circle cx="660.3" cy="156.2" r="1.0"/><circle cx="664.0" cy="160.0" r="1.6"/><circle cx="660.8" cy="155.2" r="1.0"/><circle cx="656.2" cy="153.5" r="1.5"/><circle cx="657.4" cy="158.9" r="1.1"/></g><g filter="url(#bs)" fill="#1a1a1a"><circle cx="565.2" cy="166.4" r="1.6"/><circle cx="591.4" cy="178.3" r="1.4"/><circle cx="600.1" cy="115.5" r="0.9"/><circle cx="657.3" cy="184.6" r="1.1"/><circle cx="668.0" cy="170.0" r="0.8"/><circle cx="662.0" cy="140.0" r="0.7"/><circle cx="575.0" cy="125.0" r="0.7"/></g>
</g>
<line x1="42.60" y1="350.00" x2="45.60" y2="350.00" stroke="#222" stroke-width="1.0"/>
<text x="41.40" y="352.50" font-size="8.2" font-weight="bold" text-anchor="end" fill="#000">0</text>
<line x1="42.60" y1="326.60" x2="45.60" y2="326.60" stroke="#222" stroke-width="1.0"/>
<text x="41.40" y="329.10" font-size="8.2" font-weight="bold" text-anchor="end" fill="#000">20</text>
<line x1="42.60" y1="303.20" x2="45.60" y2="303.20" stroke="#222" stroke-width="1.0"/>
<text x="41.40" y="305.70" font-size="8.2" font-weight="bold" text-anchor="end" fill="#000">40</text>
<line x1="42.60" y1="279.80" x2="45.60" y2="279.80" stroke="#222" stroke-width="1.0"/>
<text x="41.40" y="282.30" font-size="8.2" font-weight="bold" text-anchor="end" fill="#000">60</text>
<line x1="42.60" y1="256.40" x2="45.60" y2="256.40" stroke="#222" stroke-width="1.0"/>
<text x="41.40" y="258.90" font-size="8.2" font-weight="bold" text-anchor="end" fill="#000">80</text>
<rect x="47.70" y="349.30" width="3.80" height="0.70" fill="#000"/>
<line x1="52.30" y1="350.00" x2="52.30" y2="353.00" stroke="#222" stroke-width="1.0"/>
<text x="55.00" y="360.00" font-size="7.4" font-weight="bold" text-anchor="end" fill="#000" transform="rotate(-45 55.00 360.00)">0-1.0</text>
<rect x="63.62" y="305.54" width="3.80" height="44.46" fill="#000"/>
<rect x="69.22" y="326.60" width="3.80" height="23.40" fill="#FF680B"/>
<line x1="68.22" y1="350.00" x2="68.22" y2="353.00" stroke="#222" stroke-width="1.0"/>
<text x="70.92" y="360.00" font-size="7.4" font-weight="bold" text-anchor="end" fill="#000" transform="rotate(-45 70.92 360.00)">1.1-2.0</text>
<rect x="79.54" y="280.97" width="3.80" height="69.03" fill="#000"/>
<rect x="85.14" y="300.86" width="3.80" height="49.14" fill="#FF680B"/>
<line x1="84.14" y1="350.00" x2="84.14" y2="353.00" stroke="#222" stroke-width="1.0"/>
<text x="86.84" y="360.00" font-size="7.4" font-weight="bold" text-anchor="end" fill="#000" transform="rotate(-45 86.84 360.00)">2.1-3.0</text>
<rect x="95.46" y="347.66" width="3.80" height="2.34" fill="#000"/>
<rect x="101.06" y="338.30" width="3.80" height="11.70" fill="#FF680B"/>
<line x1="100.06" y1="350.00" x2="100.06" y2="353.00" stroke="#222" stroke-width="1.0"/>
<text x="102.76" y="360.00" font-size="7.4" font-weight="bold" text-anchor="end" fill="#000" transform="rotate(-45 102.76 360.00)">3.1-4.0</text>
<rect x="116.98" y="333.62" width="3.80" height="16.38" fill="#FF680B"/>
<line x1="115.98" y1="350.00" x2="115.98" y2="353.00" stroke="#222" stroke-width="1.0"/>
<text x="118.68" y="360.00" font-size="7.4" font-weight="bold" text-anchor="end" fill="#000" transform="rotate(-45 118.68 360.00)">4.1-5.0</text>
<rect x="132.90" y="342.98" width="3.80" height="7.02" fill="#FF680B"/>
<line x1="131.90" y1="350.00" x2="131.90" y2="353.00" stroke="#222" stroke-width="1.0"/>
<text x="134.60" y="360.00" font-size="7.4" font-weight="bold" text-anchor="end" fill="#000" transform="rotate(-45 134.60 360.00)">5.1-6.0</text>
<rect x="148.82" y="340.64" width="3.80" height="9.36" fill="#FF680B"/>
<line x1="147.82" y1="350.00" x2="147.82" y2="353.00" stroke="#222" stroke-width="1.0"/>
<text x="150.52" y="360.00" font-size="7.4" font-weight="bold" text-anchor="end" fill="#000" transform="rotate(-45 150.52 360.00)">≥6.1</text>
<line x1="45.60" y1="256.40" x2="45.60" y2="350.50" stroke="#222" stroke-width="1.1"/>
<line x1="45.10" y1="350.00" x2="155.00" y2="350.00" stroke="#222" stroke-width="1.1"/>
<text x="26.70" y="298.80" font-size="7.4" font-weight="bold" text-anchor="middle" fill="#000" transform="rotate(-90 26.70 298.80)">Relative frequency (percentages)</text>
<text x="100.00" y="390.50" font-size="7.6" font-weight="bold" text-anchor="middle" fill="#000">Mitochondrial Perimeter (µm)</text>
<circle cx="100.60" cy="259.40" r="2.80" fill="#000"/>
<text x="111.60" y="262.60" font-size="9.3" font-weight="bold" text-anchor="start" fill="#000">Control</text>
<rect x="98.20" y="269.60" width="5.60" height="5.80" fill="#FF680B"/>
<text x="111.60" y="275.70" font-size="9.3" font-weight="bold" text-anchor="start" fill="#000"><tspan font-style="italic">Acsm3</tspan> KO</text>
<line x1="361.00" y1="351.00" x2="364.00" y2="351.00" stroke="#777" stroke-width="1.0"/>
<text x="359.30" y="353.50" font-size="7.3" font-weight="bold" text-anchor="end" fill="#000">0</text>
<line x1="361.00" y1="327.50" x2="364.00" y2="327.50" stroke="#777" stroke-width="1.0"/>
<text x="359.30" y="330.00" font-size="7.3" font-weight="bold" text-anchor="end" fill="#000">20</text>
<line x1="361.00" y1="304.00" x2="364.00" y2="304.00" stroke="#777" stroke-width="1.0"/>
<text x="359.30" y="306.50" font-size="7.3" font-weight="bold" text-anchor="end" fill="#000">40</text>
<line x1="361.00" y1="280.50" x2="364.00" y2="280.50" stroke="#777" stroke-width="1.0"/>
<text x="359.30" y="283.00" font-size="7.3" font-weight="bold" text-anchor="end" fill="#000">60</text>
<line x1="361.00" y1="257.00" x2="364.00" y2="257.00" stroke="#777" stroke-width="1.0"/>
<text x="359.30" y="259.50" font-size="7.3" font-weight="bold" text-anchor="end" fill="#000">80</text>
<rect x="366.20" y="350.30" width="3.70" height="0.70" fill="#000"/>
<line x1="370.60" y1="351.00" x2="370.60" y2="354.00" stroke="#777" stroke-width="1.0"/>
<text x="373.30" y="361.00" font-size="7.7" font-weight="bold" text-anchor="end" fill="#000" transform="rotate(-45 373.30 361.00)">0.00-0.25</text>
<rect x="382.02" y="327.50" width="3.70" height="23.50" fill="#000"/>
<rect x="387.62" y="327.50" width="3.70" height="23.50" fill="#FF680B"/>
<line x1="386.42" y1="351.00" x2="386.42" y2="354.00" stroke="#777" stroke-width="1.0"/>
<text x="389.12" y="361.00" font-size="7.7" font-weight="bold" text-anchor="end" fill="#000" transform="rotate(-45 389.12 361.00)">0.26-0.50</text>
<rect x="397.84" y="282.85" width="3.70" height="68.15" fill="#000"/>
<rect x="403.44" y="314.57" width="3.70" height="36.43" fill="#FF680B"/>
<line x1="402.24" y1="351.00" x2="402.24" y2="354.00" stroke="#777" stroke-width="1.0"/>
<text x="404.94" y="361.00" font-size="7.7" font-weight="bold" text-anchor="end" fill="#000" transform="rotate(-45 404.94 361.00)">0.51-0.75</text>
<rect x="413.66" y="329.85" width="3.70" height="21.15" fill="#000"/>
<rect x="419.26" y="333.38" width="3.70" height="17.62" fill="#FF680B"/>
<line x1="418.06" y1="351.00" x2="418.06" y2="354.00" stroke="#777" stroke-width="1.0"/>
<text x="420.76" y="361.00" font-size="7.7" font-weight="bold" text-anchor="end" fill="#000" transform="rotate(-45 420.76 361.00)">0.76-1.00</text>
<rect x="429.48" y="347.48" width="3.70" height="3.53" fill="#000"/>
<rect x="435.08" y="339.25" width="3.70" height="11.75" fill="#FF680B"/>
<line x1="433.88" y1="351.00" x2="433.88" y2="354.00" stroke="#777" stroke-width="1.0"/>
<text x="436.58" y="361.00" font-size="7.7" font-weight="bold" text-anchor="end" fill="#000" transform="rotate(-45 436.58 361.00)">1.01-1.25</text>
<rect x="450.90" y="342.77" width="3.70" height="8.22" fill="#FF680B"/>
<line x1="449.70" y1="351.00" x2="449.70" y2="354.00" stroke="#777" stroke-width="1.0"/>
<text x="452.40" y="361.00" font-size="7.7" font-weight="bold" text-anchor="end" fill="#000" transform="rotate(-45 452.40 361.00)">1.26-1.50</text>
<rect x="466.72" y="345.12" width="3.70" height="5.88" fill="#FF680B"/>
<line x1="465.52" y1="351.00" x2="465.52" y2="354.00" stroke="#777" stroke-width="1.0"/>
<text x="468.22" y="361.00" font-size="7.7" font-weight="bold" text-anchor="end" fill="#000" transform="rotate(-45 468.22 361.00)">1.51-1.75</text>
<rect x="482.54" y="347.48" width="3.70" height="3.53" fill="#FF680B"/>
<line x1="481.34" y1="351.00" x2="481.34" y2="354.00" stroke="#777" stroke-width="1.0"/>
<text x="484.04" y="361.00" font-size="7.7" font-weight="bold" text-anchor="end" fill="#000" transform="rotate(-45 484.04 361.00)">1.76-2.00</text>
<rect x="498.36" y="348.65" width="3.70" height="2.35" fill="#FF680B"/>
<line x1="497.16" y1="351.00" x2="497.16" y2="354.00" stroke="#777" stroke-width="1.0"/>
<text x="499.86" y="361.00" font-size="7.7" font-weight="bold" text-anchor="end" fill="#000" transform="rotate(-45 499.86 361.00)">2.01-2.25</text>
<rect x="514.18" y="348.65" width="3.70" height="2.35" fill="#FF680B"/>
<line x1="512.98" y1="351.00" x2="512.98" y2="354.00" stroke="#777" stroke-width="1.0"/>
<text x="515.68" y="361.00" font-size="7.7" font-weight="bold" text-anchor="end" fill="#000" transform="rotate(-45 515.68 361.00)">2.26-2.50</text>
<rect x="530.00" y="349.82" width="3.70" height="1.18" fill="#FF680B"/>
<line x1="528.80" y1="351.00" x2="528.80" y2="354.00" stroke="#777" stroke-width="1.0"/>
<text x="531.50" y="361.00" font-size="7.7" font-weight="bold" text-anchor="end" fill="#000" transform="rotate(-45 531.50 361.00)">2.51-2.75</text>
<rect x="545.82" y="348.65" width="3.70" height="2.35" fill="#FF680B"/>
<line x1="544.62" y1="351.00" x2="544.62" y2="354.00" stroke="#777" stroke-width="1.0"/>
<text x="547.32" y="361.00" font-size="7.7" font-weight="bold" text-anchor="end" fill="#000" transform="rotate(-45 547.32 361.00)">≥2.76</text>
<line x1="364.00" y1="257.00" x2="364.00" y2="351.50" stroke="#777" stroke-width="1.1"/>
<line x1="363.50" y1="351.00" x2="552.00" y2="351.00" stroke="#777" stroke-width="1.1"/>
<text x="346.20" y="302.40" font-size="7.7" font-weight="bold" text-anchor="middle" fill="#000" transform="rotate(-90 346.20 302.40)">Relative frequency (percentages)</text>
<text x="457.70" y="396.20" font-size="7.6" font-weight="bold" text-anchor="middle" fill="#000">Mitochondrial Area (µm<tspan font-size="5" dy="-3">2</tspan><tspan dy="3">)</tspan></text>
<circle cx="454.00" cy="280.00" r="2.80" fill="#000"/>
<text x="464.20" y="283.00" font-size="9.3" font-weight="bold" text-anchor="start" fill="#000">Control</text>
<rect x="451.20" y="290.00" width="5.80" height="5.60" fill="#FF680B"/>
<text x="464.20" y="295.60" font-size="9.3" font-weight="bold" text-anchor="start" fill="#000"><tspan font-style="italic">Acsm3</tspan> KO</text>
<line x1="194.60" y1="350.50" x2="197.60" y2="350.50" stroke="#222" stroke-width="1.0"/>
<text x="192.80" y="353.20" font-size="8.0" font-weight="bold" text-anchor="end" fill="#000">0</text>
<line x1="194.60" y1="321.00" x2="197.60" y2="321.00" stroke="#222" stroke-width="1.0"/>
<text x="192.80" y="323.70" font-size="8.0" font-weight="bold" text-anchor="end" fill="#000">5</text>
<line x1="194.60" y1="291.50" x2="197.60" y2="291.50" stroke="#222" stroke-width="1.0"/>
<text x="192.80" y="294.20" font-size="8.0" font-weight="bold" text-anchor="end" fill="#000">10</text>
<line x1="194.60" y1="262.00" x2="197.60" y2="262.00" stroke="#222" stroke-width="1.0"/>
<text x="192.80" y="264.70" font-size="8.0" font-weight="bold" text-anchor="end" fill="#000">15</text>
<line x1="197.60" y1="262.00" x2="197.60" y2="351.00" stroke="#222" stroke-width="1.1"/>
<line x1="197.10" y1="350.50" x2="286.40" y2="350.50" stroke="#222" stroke-width="1.1"/>
<line x1="223.20" y1="350.50" x2="223.20" y2="353.50" stroke="#222" stroke-width="1.0"/>
<line x1="260.60" y1="350.50" x2="260.60" y2="353.50" stroke="#222" stroke-width="1.0"/>
<text x="217.60" y="267.00" font-size="9.0" font-weight="bold" text-anchor="start" fill="#000"><tspan font-style="italic">P</tspan>&lt;0.0001</text>
<text x="178.00" y="302.80" font-size="7.9" font-weight="bold" text-anchor="middle" fill="#000" transform="rotate(-90 178.00 302.80)">perimeter µm</text>
<text x="226.00" y="362.20" font-size="8.9" font-weight="bold" text-anchor="end" fill="#000" transform="rotate(-45 226.00 362.20)">Control</text>
<text x="263.80" y="362.20" font-size="8.9" font-weight="bold" text-anchor="end" fill="#000" transform="rotate(-45 263.80 362.20)"><tspan font-style="italic">Acsm3</tspan> KO</text>
<circle cx="223.13" cy="329.67" r="1.60" fill="#000"/>
<circle cx="220.25" cy="331.05" r="1.60" fill="#000"/>
<circle cx="221.78" cy="331.82" r="1.60" fill="#000"/>
<circle cx="223.91" cy="331.21" r="1.60" fill="#000"/>
<circle cx="226.38" cy="331.45" r="1.60" fill="#000"/>
<circle cx="216.67" cy="333.30" r="1.60" fill="#000"/>
<circle cx="218.58" cy="333.29" r="1.60" fill="#000"/>
<circle cx="221.22" cy="333.18" r="1.60" fill="#000"/>
<circle cx="223.27" cy="333.33" r="1.60" fill="#000"/>
<circle cx="224.93" cy="333.42" r="1.60" fill="#000"/>
<circle cx="227.44" cy="332.96" r="1.60" fill="#000"/>
<circle cx="229.18" cy="333.53" r="1.60" fill="#000"/>
<circle cx="213.27" cy="335.22" r="1.60" fill="#000"/>
<circle cx="215.26" cy="335.26" r="1.60" fill="#000"/>
<circle cx="217.04" cy="335.14" r="1.60" fill="#000"/>
<circle cx="219.07" cy="335.28" r="1.60" fill="#000"/>
<circle cx="221.37" cy="334.44" r="1.60" fill="#000"/>
<circle cx="222.85" cy="334.56" r="1.60" fill="#000"/>
<circle cx="225.42" cy="334.78" r="1.60" fill="#000"/>
<circle cx="227.18" cy="334.64" r="1.60" fill="#000"/>
<circle cx="229.09" cy="334.73" r="1.60" fill="#000"/>
<circle cx="230.98" cy="334.93" r="1.60" fill="#000"/>
<circle cx="233.14" cy="335.24" r="1.60" fill="#000"/>
<circle cx="212.18" cy="336.88" r="1.60" fill="#000"/>
<circle cx="214.26" cy="336.69" r="1.60" fill="#000"/>
<circle cx="215.72" cy="336.88" r="1.60" fill="#000"/>
<circle cx="218.32" cy="336.92" r="1.60" fill="#000"/>
<circle cx="220.09" cy="336.73" r="1.60" fill="#000"/>
<circle cx="221.88" cy="336.85" r="1.60" fill="#000"/>
<circle cx="224.17" cy="336.30" r="1.60" fill="#000"/>
<circle cx="225.86" cy="336.87" r="1.60" fill="#000"/>
<circle cx="228.54" cy="336.11" r="1.60" fill="#000"/>
<circle cx="230.45" cy="336.43" r="1.60" fill="#000"/>
<circle cx="232.04" cy="336.31" r="1.60" fill="#000"/>
<circle cx="234.51" cy="336.89" r="1.60" fill="#000"/>
<circle cx="213.94" cy="337.74" r="1.60" fill="#000"/>
<circle cx="216.06" cy="338.03" r="1.60" fill="#000"/>
<circle cx="218.23" cy="338.68" r="1.60" fill="#000"/>
<circle cx="220.02" cy="338.70" r="1.60" fill="#000"/>
<circle cx="221.94" cy="337.78" r="1.60" fill="#000"/>
<circle cx="224.20" cy="337.73" r="1.60" fill="#000"/>
<circle cx="225.97" cy="338.11" r="1.60" fill="#000"/>
<circle cx="228.31" cy="337.86" r="1.60" fill="#000"/>
<circle cx="229.97" cy="338.57" r="1.60" fill="#000"/>
<circle cx="232.21" cy="338.66" r="1.60" fill="#000"/>
<circle cx="214.51" cy="339.84" r="1.60" fill="#000"/>
<circle cx="216.74" cy="340.02" r="1.60" fill="#000"/>
<circle cx="218.92" cy="339.94" r="1.60" fill="#000"/>
<circle cx="221.06" cy="340.32" r="1.60" fill="#000"/>
<circle cx="223.10" cy="339.81" r="1.60" fill="#000"/>
<circle cx="225.38" cy="339.62" r="1.60" fill="#000"/>
<circle cx="227.21" cy="340.36" r="1.60" fill="#000"/>
<circle cx="229.49" cy="339.93" r="1.60" fill="#000"/>
<circle cx="231.26" cy="339.80" r="1.60" fill="#000"/>
<circle cx="216.70" cy="341.68" r="1.60" fill="#000"/>
<circle cx="219.15" cy="341.12" r="1.60" fill="#000"/>
<circle cx="221.17" cy="341.53" r="1.60" fill="#000"/>
<circle cx="223.23" cy="341.41" r="1.60" fill="#000"/>
<circle cx="225.27" cy="341.80" r="1.60" fill="#000"/>
<circle cx="226.81" cy="341.12" r="1.60" fill="#000"/>
<circle cx="229.29" cy="342.02" r="1.60" fill="#000"/>
<circle cx="219.21" cy="343.33" r="1.60" fill="#000"/>
<circle cx="221.04" cy="343.10" r="1.60" fill="#000"/>
<circle cx="222.97" cy="343.11" r="1.60" fill="#000"/>
<circle cx="225.10" cy="343.04" r="1.60" fill="#000"/>
<circle cx="226.88" cy="343.51" r="1.60" fill="#000"/>
<circle cx="221.33" cy="345.16" r="1.60" fill="#000"/>
<circle cx="222.97" cy="344.64" r="1.60" fill="#000"/>
<circle cx="225.14" cy="344.66" r="1.60" fill="#000"/>
<circle cx="223.05" cy="346.80" r="1.60" fill="#000"/>
<circle cx="223.10" cy="317.80" r="1.90" fill="#000"/>
<circle cx="223.10" cy="325.50" r="1.90" fill="#000"/>
<rect x="259.00" y="281.60" width="3.80" height="3.80" fill="#FF680B"/>
<rect x="259.00" y="292.20" width="3.80" height="3.80" fill="#FF680B"/>
<rect x="259.00" y="295.60" width="3.80" height="3.80" fill="#FF680B"/>
<rect x="259.00" y="305.00" width="3.80" height="3.80" fill="#FF680B"/>
<rect x="257.04" y="309.10" width="3.60" height="3.60" fill="#FF680B"/>
<rect x="258.86" y="308.77" width="3.60" height="3.60" fill="#FF680B"/>
<rect x="260.81" y="309.62" width="3.60" height="3.60" fill="#FF680B"/>
<rect x="256.55" y="310.76" width="3.60" height="3.60" fill="#FF680B"/>
<rect x="259.13" y="310.82" width="3.60" height="3.60" fill="#FF680B"/>
<rect x="261.60" y="310.65" width="3.60" height="3.60" fill="#FF680B"/>
<rect x="257.55" y="313.21" width="3.60" height="3.60" fill="#FF680B"/>
<rect x="259.31" y="313.18" width="3.60" height="3.60" fill="#FF680B"/>
<rect x="260.73" y="312.69" width="3.60" height="3.60" fill="#FF680B"/>
<rect x="256.70" y="315.07" width="3.60" height="3.60" fill="#FF680B"/>
<rect x="259.37" y="314.31" width="3.60" height="3.60" fill="#FF680B"/>
<rect x="261.73" y="314.89" width="3.60" height="3.60" fill="#FF680B"/>
<rect x="256.45" y="316.53" width="3.60" height="3.60" fill="#FF680B"/>
<rect x="258.81" y="316.99" width="3.60" height="3.60" fill="#FF680B"/>
<rect x="261.78" y="316.61" width="3.60" height="3.60" fill="#FF680B"/>
<rect x="257.23" y="318.47" width="3.60" height="3.60" fill="#FF680B"/>
<rect x="259.37" y="318.75" width="3.60" height="3.60" fill="#FF680B"/>
<rect x="261.26" y="318.31" width="3.60" height="3.60" fill="#FF680B"/>
<rect x="256.36" y="319.90" width="3.60" height="3.60" fill="#FF680B"/>
<rect x="258.96" y="320.55" width="3.60" height="3.60" fill="#FF680B"/>
<rect x="261.47" y="319.79" width="3.60" height="3.60" fill="#FF680B"/>
<rect x="256.15" y="322.11" width="3.60" height="3.60" fill="#FF680B"/>
<rect x="259.08" y="321.92" width="3.60" height="3.60" fill="#FF680B"/>
<rect x="262.25" y="321.78" width="3.60" height="3.60" fill="#FF680B"/>
<rect x="256.29" y="324.05" width="3.60" height="3.60" fill="#FF680B"/>
<rect x="258.94" y="323.78" width="3.60" height="3.60" fill="#FF680B"/>
<rect x="261.87" y="323.74" width="3.60" height="3.60" fill="#FF680B"/>
<rect x="256.40" y="325.36" width="3.60" height="3.60" fill="#FF680B"/>
<rect x="257.80" y="325.49" width="3.60" height="3.60" fill="#FF680B"/>
<rect x="260.28" y="325.88" width="3.60" height="3.60" fill="#FF680B"/>
<rect x="261.89" y="325.59" width="3.60" height="3.60" fill="#FF680B"/>
<rect x="255.19" y="327.14" width="3.60" height="3.60" fill="#FF680B"/>
<rect x="257.94" y="328.00" width="3.60" height="3.60" fill="#FF680B"/>
<rect x="260.71" y="327.83" width="3.60" height="3.60" fill="#FF680B"/>
<rect x="263.31" y="327.12" width="3.60" height="3.60" fill="#FF680B"/>
<rect x="249.74" y="329.72" width="3.60" height="3.60" fill="#FF680B"/>
<rect x="251.77" y="329.88" width="3.60" height="3.60" fill="#FF680B"/>
<rect x="254.34" y="329.76" width="3.60" height="3.60" fill="#FF680B"/>
<rect x="256.53" y="329.13" width="3.60" height="3.60" fill="#FF680B"/>
<rect x="259.06" y="329.08" width="3.60" height="3.60" fill="#FF680B"/>
<rect x="261.44" y="329.90" width="3.60" height="3.60" fill="#FF680B"/>
<rect x="263.83" y="328.95" width="3.60" height="3.60" fill="#FF680B"/>
<rect x="266.05" y="329.11" width="3.60" height="3.60" fill="#FF680B"/>
<rect x="268.99" y="329.30" width="3.60" height="3.60" fill="#FF680B"/>
<rect x="248.90" y="331.76" width="3.60" height="3.60" fill="#FF680B"/>
<rect x="251.34" y="330.99" width="3.60" height="3.60" fill="#FF680B"/>
<rect x="253.28" y="330.84" width="3.60" height="3.60" fill="#FF680B"/>
<rect x="255.56" y="331.46" width="3.60" height="3.60" fill="#FF680B"/>
<rect x="257.75" y="330.82" width="3.60" height="3.60" fill="#FF680B"/>
<rect x="260.20" y="331.03" width="3.60" height="3.60" fill="#FF680B"/>
<rect x="262.75" y="330.90" width="3.60" height="3.60" fill="#FF680B"/>
<rect x="264.63" y="331.55" width="3.60" height="3.60" fill="#FF680B"/>
<rect x="266.75" y="331.77" width="3.60" height="3.60" fill="#FF680B"/>
<rect x="269.00" y="331.02" width="3.60" height="3.60" fill="#FF680B"/>
<rect x="248.45" y="333.04" width="3.60" height="3.60" fill="#FF680B"/>
<rect x="250.89" y="333.51" width="3.60" height="3.60" fill="#FF680B"/>
<rect x="253.59" y="333.12" width="3.60" height="3.60" fill="#FF680B"/>
<rect x="255.33" y="332.87" width="3.60" height="3.60" fill="#FF680B"/>
<rect x="257.77" y="332.83" width="3.60" height="3.60" fill="#FF680B"/>
<rect x="260.06" y="333.49" width="3.60" height="3.60" fill="#FF680B"/>
<rect x="262.29" y="332.67" width="3.60" height="3.60" fill="#FF680B"/>
<rect x="265.14" y="333.19" width="3.60" height="3.60" fill="#FF680B"/>
<rect x="267.48" y="333.02" width="3.60" height="3.60" fill="#FF680B"/>
<rect x="269.71" y="333.27" width="3.60" height="3.60" fill="#FF680B"/>
<rect x="248.91" y="334.95" width="3.60" height="3.60" fill="#FF680B"/>
<rect x="250.76" y="334.67" width="3.60" height="3.60" fill="#FF680B"/>
<rect x="253.61" y="335.36" width="3.60" height="3.60" fill="#FF680B"/>
<rect x="255.94" y="334.80" width="3.60" height="3.60" fill="#FF680B"/>
<rect x="258.06" y="335.26" width="3.60" height="3.60" fill="#FF680B"/>
<rect x="260.35" y="335.27" width="3.60" height="3.60" fill="#FF680B"/>
<rect x="262.57" y="335.11" width="3.60" height="3.60" fill="#FF680B"/>
<rect x="264.99" y="334.73" width="3.60" height="3.60" fill="#FF680B"/>
<rect x="267.45" y="335.42" width="3.60" height="3.60" fill="#FF680B"/>
<rect x="269.16" y="335.43" width="3.60" height="3.60" fill="#FF680B"/>
<rect x="250.29" y="336.34" width="3.60" height="3.60" fill="#FF680B"/>
<rect x="252.69" y="336.43" width="3.60" height="3.60" fill="#FF680B"/>
<rect x="254.97" y="336.97" width="3.60" height="3.60" fill="#FF680B"/>
<rect x="256.56" y="336.47" width="3.60" height="3.60" fill="#FF680B"/>
<rect x="259.19" y="336.87" width="3.60" height="3.60" fill="#FF680B"/>
<rect x="261.50" y="337.23" width="3.60" height="3.60" fill="#FF680B"/>
<rect x="263.37" y="336.30" width="3.60" height="3.60" fill="#FF680B"/>
<rect x="266.09" y="336.31" width="3.60" height="3.60" fill="#FF680B"/>
<rect x="268.29" y="336.42" width="3.60" height="3.60" fill="#FF680B"/>
<rect x="252.52" y="339.02" width="3.60" height="3.60" fill="#FF680B"/>
<rect x="254.62" y="339.02" width="3.60" height="3.60" fill="#FF680B"/>
<rect x="256.63" y="338.81" width="3.60" height="3.60" fill="#FF680B"/>
<rect x="258.98" y="339.03" width="3.60" height="3.60" fill="#FF680B"/>
<rect x="261.55" y="338.61" width="3.60" height="3.60" fill="#FF680B"/>
<rect x="263.64" y="338.17" width="3.60" height="3.60" fill="#FF680B"/>
<rect x="265.55" y="338.73" width="3.60" height="3.60" fill="#FF680B"/>
<rect x="255.02" y="340.59" width="3.60" height="3.60" fill="#FF680B"/>
<rect x="256.68" y="340.34" width="3.60" height="3.60" fill="#FF680B"/>
<rect x="259.29" y="340.50" width="3.60" height="3.60" fill="#FF680B"/>
<rect x="260.93" y="340.82" width="3.60" height="3.60" fill="#FF680B"/>
<rect x="263.67" y="340.07" width="3.60" height="3.60" fill="#FF680B"/>
<rect x="256.84" y="342.61" width="3.60" height="3.60" fill="#FF680B"/>
<rect x="258.97" y="342.05" width="3.60" height="3.60" fill="#FF680B"/>
<rect x="261.27" y="342.79" width="3.60" height="3.60" fill="#FF680B"/>
<line x1="254.10" y1="319.10" x2="267.20" y2="319.10" stroke="#ffa070" stroke-width="0.9"/>
<line x1="248.10" y1="330.60" x2="273.60" y2="330.60" stroke="#ff9060" stroke-width="1.0"/>
<line x1="594.60" y1="350.60" x2="597.60" y2="350.60" stroke="#555" stroke-width="1.0"/>
<text x="592.00" y="353.30" font-size="7.6" font-weight="bold" text-anchor="end" fill="#000">0</text>
<line x1="594.60" y1="328.90" x2="597.60" y2="328.90" stroke="#555" stroke-width="1.0"/>
<text x="592.00" y="331.60" font-size="7.6" font-weight="bold" text-anchor="end" fill="#000">1</text>
<line x1="594.60" y1="307.20" x2="597.60" y2="307.20" stroke="#555" stroke-width="1.0"/>
<text x="592.00" y="309.90" font-size="7.6" font-weight="bold" text-anchor="end" fill="#000">2</text>
<line x1="594.60" y1="285.50" x2="597.60" y2="285.50" stroke="#555" stroke-width="1.0"/>
<text x="592.00" y="288.20" font-size="7.6" font-weight="bold" text-anchor="end" fill="#000">3</text>
<line x1="594.60" y1="263.80" x2="597.60" y2="263.80" stroke="#555" stroke-width="1.0"/>
<text x="592.00" y="266.50" font-size="7.6" font-weight="bold" text-anchor="end" fill="#000">4</text>
<line x1="597.60" y1="263.60" x2="597.60" y2="351.10" stroke="#555" stroke-width="1.1"/>
<line x1="597.10" y1="350.60" x2="685.60" y2="350.60" stroke="#555" stroke-width="1.1"/>
<line x1="622.60" y1="350.60" x2="622.60" y2="353.60" stroke="#555" stroke-width="1.0"/>
<line x1="660.00" y1="350.60" x2="660.00" y2="353.60" stroke="#555" stroke-width="1.0"/>
<text x="621.00" y="267.20" font-size="9.0" font-weight="bold" text-anchor="start" fill="#000"><tspan font-style="italic">P</tspan>&lt;0.0001</text>
<text x="578.40" y="306.00" font-size="8.5" font-weight="bold" text-anchor="middle" fill="#000" transform="rotate(-90 578.40 306.00)">Area µm<tspan font-size="5.4" dy="-3.2">2</tspan></text>
<text x="625.60" y="362.00" font-size="8.9" font-weight="bold" text-anchor="end" fill="#000" transform="rotate(-45 625.60 362.00)">Control</text>
<text x="663.20" y="362.60" font-size="8.9" font-weight="bold" text-anchor="end" fill="#000" transform="rotate(-45 663.20 362.60)"><tspan font-style="italic">Acsm3</tspan> KO</text>
<circle cx="622.77" cy="324.70" r="1.60" fill="#000"/>
<circle cx="621.72" cy="326.50" r="1.60" fill="#000"/>
<circle cx="623.31" cy="326.05" r="1.60" fill="#000"/>
<circle cx="621.62" cy="328.16" r="1.60" fill="#000"/>
<circle cx="623.41" cy="327.73" r="1.60" fill="#000"/>
<circle cx="621.81" cy="329.51" r="1.60" fill="#000"/>
<circle cx="623.08" cy="329.16" r="1.60" fill="#000"/>
<circle cx="618.73" cy="331.39" r="1.60" fill="#000"/>
<circle cx="620.28" cy="331.42" r="1.60" fill="#000"/>
<circle cx="622.35" cy="331.24" r="1.60" fill="#000"/>
<circle cx="624.42" cy="330.62" r="1.60" fill="#000"/>
<circle cx="627.02" cy="330.83" r="1.60" fill="#000"/>
<circle cx="615.31" cy="333.17" r="1.60" fill="#000"/>
<circle cx="617.00" cy="333.26" r="1.60" fill="#000"/>
<circle cx="619.36" cy="332.98" r="1.60" fill="#000"/>
<circle cx="621.30" cy="333.24" r="1.60" fill="#000"/>
<circle cx="623.82" cy="333.27" r="1.60" fill="#000"/>
<circle cx="626.15" cy="332.60" r="1.60" fill="#000"/>
<circle cx="627.95" cy="332.47" r="1.60" fill="#000"/>
<circle cx="629.98" cy="332.37" r="1.60" fill="#000"/>
<circle cx="612.82" cy="333.98" r="1.60" fill="#000"/>
<circle cx="615.06" cy="334.32" r="1.60" fill="#000"/>
<circle cx="616.99" cy="334.80" r="1.60" fill="#000"/>
<circle cx="619.30" cy="334.30" r="1.60" fill="#000"/>
<circle cx="621.49" cy="334.68" r="1.60" fill="#000"/>
<circle cx="623.38" cy="334.96" r="1.60" fill="#000"/>
<circle cx="625.55" cy="334.73" r="1.60" fill="#000"/>
<circle cx="628.32" cy="334.00" r="1.60" fill="#000"/>
<circle cx="630.47" cy="334.35" r="1.60" fill="#000"/>
<circle cx="632.51" cy="333.99" r="1.60" fill="#000"/>
<circle cx="612.56" cy="336.62" r="1.60" fill="#000"/>
<circle cx="614.75" cy="336.42" r="1.60" fill="#000"/>
<circle cx="617.44" cy="336.60" r="1.60" fill="#000"/>
<circle cx="619.22" cy="336.01" r="1.60" fill="#000"/>
<circle cx="621.53" cy="336.44" r="1.60" fill="#000"/>
<circle cx="623.42" cy="336.41" r="1.60" fill="#000"/>
<circle cx="626.08" cy="336.52" r="1.60" fill="#000"/>
<circle cx="627.73" cy="336.61" r="1.60" fill="#000"/>
<circle cx="629.95" cy="336.00" r="1.60" fill="#000"/>
<circle cx="632.50" cy="336.58" r="1.60" fill="#000"/>
<circle cx="613.66" cy="337.89" r="1.60" fill="#000"/>
<circle cx="615.28" cy="337.66" r="1.60" fill="#000"/>
<circle cx="617.24" cy="337.42" r="1.60" fill="#000"/>
<circle cx="619.28" cy="338.03" r="1.60" fill="#000"/>
<circle cx="621.92" cy="337.50" r="1.60" fill="#000"/>
<circle cx="623.31" cy="338.33" r="1.60" fill="#000"/>
<circle cx="625.70" cy="337.75" r="1.60" fill="#000"/>
<circle cx="627.55" cy="337.93" r="1.60" fill="#000"/>
<circle cx="630.01" cy="337.80" r="1.60" fill="#000"/>
<circle cx="631.78" cy="337.40" r="1.60" fill="#000"/>
<circle cx="614.05" cy="339.51" r="1.60" fill="#000"/>
<circle cx="616.67" cy="339.15" r="1.60" fill="#000"/>
<circle cx="618.65" cy="339.97" r="1.60" fill="#000"/>
<circle cx="620.63" cy="339.81" r="1.60" fill="#000"/>
<circle cx="622.32" cy="339.45" r="1.60" fill="#000"/>
<circle cx="624.41" cy="339.86" r="1.60" fill="#000"/>
<circle cx="626.57" cy="339.47" r="1.60" fill="#000"/>
<circle cx="629.12" cy="339.87" r="1.60" fill="#000"/>
<circle cx="631.16" cy="339.47" r="1.60" fill="#000"/>
<circle cx="618.42" cy="341.18" r="1.60" fill="#000"/>
<circle cx="620.28" cy="341.10" r="1.60" fill="#000"/>
<circle cx="622.35" cy="341.08" r="1.60" fill="#000"/>
<circle cx="625.11" cy="341.66" r="1.60" fill="#000"/>
<circle cx="627.03" cy="341.20" r="1.60" fill="#000"/>
<circle cx="618.92" cy="342.65" r="1.60" fill="#000"/>
<circle cx="621.67" cy="343.25" r="1.60" fill="#000"/>
<circle cx="623.64" cy="343.17" r="1.60" fill="#000"/>
<circle cx="626.19" cy="343.07" r="1.60" fill="#000"/>
<circle cx="619.57" cy="344.42" r="1.60" fill="#000"/>
<circle cx="621.67" cy="344.34" r="1.60" fill="#000"/>
<circle cx="623.66" cy="344.83" r="1.60" fill="#000"/>
<circle cx="625.95" cy="344.35" r="1.60" fill="#000"/>
<circle cx="620.95" cy="346.32" r="1.60" fill="#000"/>
<circle cx="622.26" cy="346.29" r="1.60" fill="#000"/>
<circle cx="624.18" cy="346.41" r="1.60" fill="#000"/>
<rect x="658.70" y="276.80" width="3.20" height="3.20" fill="#FF680B"/>
<rect x="657.76" y="295.49" width="3.00" height="3.00" fill="#FF680B"/>
<rect x="660.10" y="295.00" width="3.00" height="3.00" fill="#FF680B"/>
<rect x="657.65" y="297.92" width="3.00" height="3.00" fill="#FF680B"/>
<rect x="660.04" y="297.93" width="3.00" height="3.00" fill="#FF680B"/>
<rect x="659.11" y="300.05" width="3.00" height="3.00" fill="#FF680B"/>
<rect x="657.97" y="302.16" width="3.00" height="3.00" fill="#FF680B"/>
<rect x="659.65" y="302.03" width="3.00" height="3.00" fill="#FF680B"/>
<rect x="657.08" y="304.44" width="3.00" height="3.00" fill="#FF680B"/>
<rect x="660.68" y="304.48" width="3.00" height="3.00" fill="#FF680B"/>
<rect x="657.65" y="306.60" width="3.00" height="3.00" fill="#FF680B"/>
<rect x="660.08" y="306.25" width="3.00" height="3.00" fill="#FF680B"/>
<rect x="658.69" y="308.59" width="3.00" height="3.00" fill="#FF680B"/>
<rect x="658.06" y="310.71" width="3.00" height="3.00" fill="#FF680B"/>
<rect x="659.85" y="310.78" width="3.00" height="3.00" fill="#FF680B"/>
<rect x="657.74" y="313.19" width="3.00" height="3.00" fill="#FF680B"/>
<rect x="660.37" y="312.92" width="3.00" height="3.00" fill="#FF680B"/>
<rect x="656.92" y="315.42" width="3.00" height="3.00" fill="#FF680B"/>
<rect x="658.57" y="314.80" width="3.00" height="3.00" fill="#FF680B"/>
<rect x="661.16" y="314.74" width="3.00" height="3.00" fill="#FF680B"/>
<rect x="655.96" y="317.48" width="3.00" height="3.00" fill="#FF680B"/>
<rect x="658.92" y="316.72" width="3.00" height="3.00" fill="#FF680B"/>
<rect x="661.67" y="316.91" width="3.00" height="3.00" fill="#FF680B"/>
<rect x="656.17" y="318.90" width="3.00" height="3.00" fill="#FF680B"/>
<rect x="658.70" y="319.63" width="3.00" height="3.00" fill="#FF680B"/>
<rect x="661.75" y="318.77" width="3.00" height="3.00" fill="#FF680B"/>
<rect x="654.24" y="321.25" width="3.00" height="3.00" fill="#FF680B"/>
<rect x="657.74" y="321.54" width="3.00" height="3.00" fill="#FF680B"/>
<rect x="660.20" y="321.30" width="3.00" height="3.00" fill="#FF680B"/>
<rect x="663.14" y="321.05" width="3.00" height="3.00" fill="#FF680B"/>
<rect x="653.26" y="323.50" width="3.00" height="3.00" fill="#FF680B"/>
<rect x="656.41" y="323.48" width="3.00" height="3.00" fill="#FF680B"/>
<rect x="659.24" y="323.33" width="3.00" height="3.00" fill="#FF680B"/>
<rect x="661.90" y="323.97" width="3.00" height="3.00" fill="#FF680B"/>
<rect x="664.34" y="323.97" width="3.00" height="3.00" fill="#FF680B"/>
<rect x="653.92" y="326.04" width="3.00" height="3.00" fill="#FF680B"/>
<rect x="656.31" y="325.71" width="3.00" height="3.00" fill="#FF680B"/>
<rect x="659.04" y="325.65" width="3.00" height="3.00" fill="#FF680B"/>
<rect x="661.22" y="325.99" width="3.00" height="3.00" fill="#FF680B"/>
<rect x="663.95" y="325.73" width="3.00" height="3.00" fill="#FF680B"/>
<rect x="652.06" y="327.42" width="3.00" height="3.00" fill="#FF680B"/>
<rect x="654.67" y="327.99" width="3.00" height="3.00" fill="#FF680B"/>
<rect x="657.48" y="327.66" width="3.00" height="3.00" fill="#FF680B"/>
<rect x="660.19" y="328.33" width="3.00" height="3.00" fill="#FF680B"/>
<rect x="662.70" y="327.81" width="3.00" height="3.00" fill="#FF680B"/>
<rect x="665.78" y="328.01" width="3.00" height="3.00" fill="#FF680B"/>
<rect x="651.10" y="330.04" width="3.00" height="3.00" fill="#FF680B"/>
<rect x="653.46" y="329.94" width="3.00" height="3.00" fill="#FF680B"/>
<rect x="656.17" y="330.36" width="3.00" height="3.00" fill="#FF680B"/>
<rect x="658.78" y="330.22" width="3.00" height="3.00" fill="#FF680B"/>
<rect x="661.82" y="330.48" width="3.00" height="3.00" fill="#FF680B"/>
<rect x="664.00" y="330.16" width="3.00" height="3.00" fill="#FF680B"/>
<rect x="666.56" y="329.96" width="3.00" height="3.00" fill="#FF680B"/>
<rect x="648.54" y="332.66" width="3.00" height="3.00" fill="#FF680B"/>
<rect x="650.83" y="331.73" width="3.00" height="3.00" fill="#FF680B"/>
<rect x="653.58" y="331.78" width="3.00" height="3.00" fill="#FF680B"/>
<rect x="655.93" y="332.49" width="3.00" height="3.00" fill="#FF680B"/>
<rect x="658.63" y="332.44" width="3.00" height="3.00" fill="#FF680B"/>
<rect x="661.44" y="332.66" width="3.00" height="3.00" fill="#FF680B"/>
<rect x="664.43" y="331.78" width="3.00" height="3.00" fill="#FF680B"/>
<rect x="666.61" y="332.67" width="3.00" height="3.00" fill="#FF680B"/>
<rect x="669.55" y="332.14" width="3.00" height="3.00" fill="#FF680B"/>
<rect x="648.00" y="334.37" width="3.00" height="3.00" fill="#FF680B"/>
<rect x="650.54" y="333.98" width="3.00" height="3.00" fill="#FF680B"/>
<rect x="653.25" y="334.02" width="3.00" height="3.00" fill="#FF680B"/>
<rect x="656.21" y="334.49" width="3.00" height="3.00" fill="#FF680B"/>
<rect x="658.65" y="334.51" width="3.00" height="3.00" fill="#FF680B"/>
<rect x="661.40" y="333.99" width="3.00" height="3.00" fill="#FF680B"/>
<rect x="664.56" y="334.34" width="3.00" height="3.00" fill="#FF680B"/>
<rect x="667.52" y="334.51" width="3.00" height="3.00" fill="#FF680B"/>
<rect x="670.16" y="334.01" width="3.00" height="3.00" fill="#FF680B"/>
<rect x="647.70" y="336.66" width="3.00" height="3.00" fill="#FF680B"/>
<rect x="651.01" y="336.95" width="3.00" height="3.00" fill="#FF680B"/>
<rect x="653.72" y="336.49" width="3.00" height="3.00" fill="#FF680B"/>
<rect x="656.31" y="336.83" width="3.00" height="3.00" fill="#FF680B"/>
<rect x="658.65" y="336.98" width="3.00" height="3.00" fill="#FF680B"/>
<rect x="661.91" y="336.48" width="3.00" height="3.00" fill="#FF680B"/>
<rect x="664.55" y="336.49" width="3.00" height="3.00" fill="#FF680B"/>
<rect x="666.92" y="336.75" width="3.00" height="3.00" fill="#FF680B"/>
<rect x="669.50" y="336.84" width="3.00" height="3.00" fill="#FF680B"/>
<rect x="648.91" y="339.14" width="3.00" height="3.00" fill="#FF680B"/>
<rect x="651.58" y="339.06" width="3.00" height="3.00" fill="#FF680B"/>
<rect x="654.53" y="339.17" width="3.00" height="3.00" fill="#FF680B"/>
<rect x="657.45" y="339.12" width="3.00" height="3.00" fill="#FF680B"/>
<rect x="659.98" y="338.29" width="3.00" height="3.00" fill="#FF680B"/>
<rect x="663.34" y="338.84" width="3.00" height="3.00" fill="#FF680B"/>
<rect x="665.96" y="338.23" width="3.00" height="3.00" fill="#FF680B"/>
<rect x="668.52" y="338.57" width="3.00" height="3.00" fill="#FF680B"/>
<rect x="652.35" y="341.13" width="3.00" height="3.00" fill="#FF680B"/>
<rect x="655.08" y="341.06" width="3.00" height="3.00" fill="#FF680B"/>
<rect x="657.41" y="340.44" width="3.00" height="3.00" fill="#FF680B"/>
<rect x="660.44" y="340.47" width="3.00" height="3.00" fill="#FF680B"/>
<rect x="663.07" y="340.82" width="3.00" height="3.00" fill="#FF680B"/>
<rect x="665.80" y="340.44" width="3.00" height="3.00" fill="#FF680B"/>
<rect x="654.28" y="342.55" width="3.00" height="3.00" fill="#FF680B"/>
<rect x="657.37" y="342.67" width="3.00" height="3.00" fill="#FF680B"/>
<rect x="660.29" y="342.67" width="3.00" height="3.00" fill="#FF680B"/>
<rect x="663.58" y="342.91" width="3.00" height="3.00" fill="#FF680B"/>
<line x1="654.00" y1="318.00" x2="667.20" y2="318.00" stroke="#ffa070" stroke-width="0.9"/>
<line x1="648.00" y1="330.40" x2="673.10" y2="330.40" stroke="#ff9060" stroke-width="1.0"/>
<line x1="52.40" y1="582.40" x2="55.40" y2="582.40" stroke="#111" stroke-width="1.0"/>
<text x="50.20" y="585.20" font-size="8.0" font-weight="bold" text-anchor="end" fill="#000">0.6</text>
<line x1="52.40" y1="543.40" x2="55.40" y2="543.40" stroke="#111" stroke-width="1.0"/>
<text x="50.20" y="546.20" font-size="8.0" font-weight="bold" text-anchor="end" fill="#000">0.8</text>
<line x1="52.40" y1="504.40" x2="55.40" y2="504.40" stroke="#111" stroke-width="1.0"/>
<text x="50.20" y="507.20" font-size="8.0" font-weight="bold" text-anchor="end" fill="#000">1.0</text>
<line x1="52.40" y1="465.40" x2="55.40" y2="465.40" stroke="#111" stroke-width="1.0"/>
<text x="50.20" y="468.20" font-size="8.0" font-weight="bold" text-anchor="end" fill="#000">1.2</text>
<text x="33.80" y="522.70" font-size="7.7" font-weight="bold" text-anchor="middle" fill="#000" transform="rotate(-90 33.80 522.70)">RQ</text>
<path d="M67.25,582.40 L67.25,524.65 L88.25,524.65 L88.25,582.40" fill="#fff" stroke="#3a3a3a" stroke-width="1.5" stroke-linejoin="miter"/>
<path d="M100.75,582.40 L100.75,538.05 L121.25,538.05 L121.25,582.40" fill="#fff" stroke="#FF680B" stroke-width="1.5" stroke-linejoin="miter"/>
<path d="M156.55,582.40 L156.55,527.85 L176.05,527.85 L176.05,582.40" fill="#fff" stroke="#3a3a3a" stroke-width="1.5" stroke-linejoin="miter"/>
<path d="M189.95,582.40 L189.95,540.55 L209.35,540.55 L209.35,582.40" fill="#fff" stroke="#FF680B" stroke-width="1.5" stroke-linejoin="miter"/>
<line x1="77.60" y1="518.20" x2="77.60" y2="528.80" stroke="#333" stroke-width="1.0"/>
<line x1="72.40" y1="518.20" x2="82.80" y2="518.20" stroke="#333" stroke-width="1.0"/>
<line x1="72.40" y1="528.80" x2="82.80" y2="528.80" stroke="#333" stroke-width="1.0"/>
<line x1="111.10" y1="535.80" x2="111.10" y2="548.40" stroke="#FF680B" stroke-width="1.0"/>
<line x1="105.90" y1="535.80" x2="116.30" y2="535.80" stroke="#FF680B" stroke-width="1.0"/>
<line x1="105.90" y1="548.40" x2="116.30" y2="548.40" stroke="#FF680B" stroke-width="1.0"/>
<line x1="166.60" y1="521.40" x2="166.60" y2="530.90" stroke="#333" stroke-width="1.0"/>
<line x1="161.80" y1="521.40" x2="171.40" y2="521.40" stroke="#333" stroke-width="1.0"/>
<line x1="161.80" y1="530.90" x2="171.40" y2="530.90" stroke="#333" stroke-width="1.0"/>
<line x1="200.00" y1="533.80" x2="200.00" y2="539.80" stroke="#FF680B" stroke-width="1.0"/>
<line x1="195.20" y1="533.80" x2="204.80" y2="533.80" stroke="#FF680B" stroke-width="1.0"/>
<line x1="195.20" y1="539.80" x2="204.80" y2="539.80" stroke="#FF680B" stroke-width="1.0"/>
<circle cx="68.90" cy="529.80" r="2.20" fill="#000"/>
<circle cx="77.60" cy="520.40" r="2.20" fill="#000"/>
<circle cx="77.60" cy="526.40" r="2.20" fill="#000"/>
<circle cx="86.30" cy="515.90" r="2.20" fill="#000"/>
<circle cx="86.30" cy="522.10" r="2.20" fill="#000"/>
<circle cx="86.30" cy="528.00" r="2.20" fill="#000"/>
<circle cx="157.70" cy="521.90" r="2.20" fill="#000"/>
<circle cx="163.60" cy="518.10" r="2.20" fill="#000"/>
<circle cx="163.20" cy="527.90" r="2.20" fill="#000"/>
<circle cx="169.20" cy="529.90" r="2.20" fill="#000"/>
<circle cx="174.80" cy="527.90" r="2.20" fill="#000"/>
<circle cx="157.70" cy="531.60" r="2.20" fill="#000"/>
<rect x="108.65" y="529.15" width="4.90" height="4.90" fill="#FF680B"/>
<rect x="100.25" y="536.85" width="4.90" height="4.90" fill="#FF680B"/>
<rect x="116.85" y="538.75" width="4.90" height="4.90" fill="#FF680B"/>
<rect x="108.65" y="540.75" width="4.90" height="4.90" fill="#FF680B"/>
<rect x="100.25" y="545.75" width="4.90" height="4.90" fill="#FF680B"/>
<rect x="116.85" y="545.75" width="4.90" height="4.90" fill="#FF680B"/>
<rect x="188.75" y="531.35" width="4.90" height="4.90" fill="#FF680B"/>
<rect x="206.15" y="531.35" width="4.90" height="4.90" fill="#FF680B"/>
<rect x="194.75" y="534.85" width="4.90" height="4.90" fill="#FF680B"/>
<rect x="199.65" y="534.85" width="4.90" height="4.90" fill="#FF680B"/>
<rect x="194.25" y="544.75" width="4.90" height="4.90" fill="#FF680B"/>
<rect x="199.65" y="542.85" width="4.90" height="4.90" fill="#FF680B"/>
<line x1="55.40" y1="465.20" x2="55.40" y2="582.90" stroke="#111" stroke-width="1.1"/>
<line x1="54.90" y1="582.40" x2="222.40" y2="582.40" stroke="#111" stroke-width="1.1"/>
<line x1="94.00" y1="582.40" x2="94.00" y2="585.80" stroke="#111" stroke-width="1.0"/>
<line x1="182.60" y1="582.40" x2="182.60" y2="585.80" stroke="#111" stroke-width="1.0"/>
<text x="94.20" y="594.60" font-size="8.1" font-weight="bold" text-anchor="middle" fill="#000">Light</text>
<text x="182.80" y="594.60" font-size="8.1" font-weight="bold" text-anchor="middle" fill="#000">Dark</text>
<circle cx="115.00" cy="459.00" r="2.80" fill="#000"/>
<text x="125.00" y="462.20" font-size="9.4" font-weight="bold" text-anchor="start" fill="#000">Control</text>
<rect x="112.00" y="469.40" width="6.00" height="6.00" fill="#FF680B"/>
<text x="125.00" y="475.50" font-size="9.4" font-weight="bold" text-anchor="start" fill="#000"><tspan font-style="italic">Acsm3</tspan> KO</text>
<text x="79.20" y="506.00" font-size="9.4" font-weight="bold" text-anchor="start" fill="#000"><tspan font-style="italic">P</tspan>=0.0002</text>
<text x="170.40" y="509.40" font-size="9.4" font-weight="bold" text-anchor="start" fill="#000"><tspan font-style="italic">P</tspan>=0.0022</text>
<line x1="322.50" y1="579.80" x2="325.50" y2="579.80" stroke="#111" stroke-width="1.0"/>
<text x="319.40" y="583.00" font-size="8.8" font-weight="bold" text-anchor="end" fill="#000">0</text>
<line x1="322.50" y1="547.20" x2="325.50" y2="547.20" stroke="#111" stroke-width="1.0"/>
<text x="319.40" y="550.40" font-size="8.8" font-weight="bold" text-anchor="end" fill="#000">500</text>
<line x1="322.50" y1="514.60" x2="325.50" y2="514.60" stroke="#111" stroke-width="1.0"/>
<text x="319.40" y="517.80" font-size="8.8" font-weight="bold" text-anchor="end" fill="#000">1000</text>
<line x1="322.50" y1="482.00" x2="325.50" y2="482.00" stroke="#111" stroke-width="1.0"/>
<text x="319.40" y="485.20" font-size="8.8" font-weight="bold" text-anchor="end" fill="#000">1500</text>
<line x1="325.70" y1="579.80" x2="325.70" y2="583.00" stroke="#111" stroke-width="1.0"/>
<text x="325.70" y="593.60" font-size="8.8" font-weight="bold" text-anchor="middle" fill="#000">0</text>
<line x1="352.40" y1="579.80" x2="352.40" y2="583.00" stroke="#111" stroke-width="1.0"/>
<text x="352.40" y="593.60" font-size="8.8" font-weight="bold" text-anchor="middle" fill="#000">20</text>
<line x1="379.10" y1="579.80" x2="379.10" y2="583.00" stroke="#111" stroke-width="1.0"/>
<text x="379.10" y="593.60" font-size="8.8" font-weight="bold" text-anchor="middle" fill="#000">40</text>
<line x1="405.80" y1="579.80" x2="405.80" y2="583.00" stroke="#111" stroke-width="1.0"/>
<text x="405.80" y="593.60" font-size="8.8" font-weight="bold" text-anchor="middle" fill="#000">60</text>
<line x1="432.50" y1="579.80" x2="432.50" y2="583.00" stroke="#111" stroke-width="1.0"/>
<text x="432.50" y="593.60" font-size="8.8" font-weight="bold" text-anchor="middle" fill="#000">80</text>
<line x1="459.20" y1="579.80" x2="459.20" y2="583.00" stroke="#111" stroke-width="1.0"/>
<text x="459.20" y="593.60" font-size="8.8" font-weight="bold" text-anchor="middle" fill="#000">100</text>
<line x1="325.50" y1="482.00" x2="325.50" y2="580.30" stroke="#111" stroke-width="1.1"/>
<line x1="325.00" y1="579.80" x2="460.00" y2="579.80" stroke="#111" stroke-width="1.1"/>
<text x="292.40" y="530.00" font-size="9.0" font-weight="bold" text-anchor="middle" fill="#000" transform="rotate(-90 292.40 530.00)">OCR pmol/min</text>
<text x="392.30" y="609.80" font-size="9.2" font-weight="bold" text-anchor="middle" fill="#000">Time (minutes)</text>
<line x1="330.80" y1="462.60" x2="341.20" y2="462.60" stroke="#000" stroke-width="1.6"/>
<circle cx="336.20" cy="462.60" r="1.90" fill="#000"/>
<text x="347.00" y="465.90" font-size="9.5" font-weight="bold" text-anchor="start" fill="#000">Control</text>
<line x1="330.80" y1="474.80" x2="341.20" y2="474.80" stroke="#FF680B" stroke-width="2.0"/>
<rect x="334.20" y="472.60" width="4.40" height="4.40" fill="#FF680B"/>
<text x="347.00" y="478.30" font-size="9.5" font-weight="bold" text-anchor="start" fill="#000"><tspan font-style="italic">Acsm3</tspan> KO</text>
<text x="339.00" y="506.60" font-size="9.2" font-weight="bold" text-anchor="start" fill="#000">Olig</text>
<line x1="346.60" y1="509.50" x2="346.60" y2="523.90" stroke="#000" stroke-width="1.4"/>
<polygon points="343.60,521.40 349.60,521.40 346.60,528.90" fill="#000"/>
<text x="367.00" y="511.50" font-size="9.2" font-weight="bold" text-anchor="start" fill="#000">FCCP</text>
<line x1="379.10" y1="515.80" x2="379.10" y2="529.80" stroke="#000" stroke-width="1.4"/>
<polygon points="376.10,527.30 382.10,527.30 379.10,534.80" fill="#000"/>
<text x="422.00" y="490.90" font-size="9.2" font-weight="bold" text-anchor="start" fill="#000">A/R</text>
<line x1="428.50" y1="493.40" x2="428.50" y2="508.80" stroke="#000" stroke-width="1.4"/>
<polygon points="425.50,506.30 431.50,506.30 428.50,513.80" fill="#000"/>
<line x1="328.10" y1="563.20" x2="328.10" y2="576.60" stroke="#ff9a60" stroke-width="0.9"/>
<line x1="326.20" y1="563.20" x2="330.00" y2="563.20" stroke="#ff9a60" stroke-width="0.9"/>
<line x1="326.20" y1="576.60" x2="330.00" y2="576.60" stroke="#ff9a60" stroke-width="0.9"/>
<line x1="339.00" y1="560.30" x2="339.00" y2="572.20" stroke="#ff9a60" stroke-width="0.9"/>
<line x1="337.10" y1="560.30" x2="340.90" y2="560.30" stroke="#ff9a60" stroke-width="0.9"/>
<line x1="337.10" y1="572.20" x2="340.90" y2="572.20" stroke="#ff9a60" stroke-width="0.9"/>
<line x1="351.10" y1="559.40" x2="351.10" y2="571.50" stroke="#ff9a60" stroke-width="0.9"/>
<line x1="349.20" y1="559.40" x2="353.00" y2="559.40" stroke="#ff9a60" stroke-width="0.9"/>
<line x1="349.20" y1="571.50" x2="353.00" y2="571.50" stroke="#ff9a60" stroke-width="0.9"/>
<line x1="361.90" y1="565.80" x2="361.90" y2="577.30" stroke="#ff9a60" stroke-width="0.9"/>
<line x1="360.00" y1="565.80" x2="363.80" y2="565.80" stroke="#ff9a60" stroke-width="0.9"/>
<line x1="360.00" y1="577.30" x2="363.80" y2="577.30" stroke="#ff9a60" stroke-width="0.9"/>
<line x1="372.50" y1="570.50" x2="372.50" y2="577.30" stroke="#ff9a60" stroke-width="0.9"/>
<line x1="370.60" y1="570.50" x2="374.40" y2="570.50" stroke="#ff9a60" stroke-width="0.9"/>
<line x1="370.60" y1="577.30" x2="374.40" y2="577.30" stroke="#ff9a60" stroke-width="0.9"/>
<line x1="384.30" y1="571.50" x2="384.30" y2="577.60" stroke="#ff9a60" stroke-width="0.9"/>
<line x1="382.40" y1="571.50" x2="386.20" y2="571.50" stroke="#ff9a60" stroke-width="0.9"/>
<line x1="382.40" y1="577.60" x2="386.20" y2="577.60" stroke="#ff9a60" stroke-width="0.9"/>
<line x1="395.30" y1="546.40" x2="395.30" y2="565.60" stroke="#ff9a60" stroke-width="0.9"/>
<line x1="393.40" y1="546.40" x2="397.20" y2="546.40" stroke="#ff9a60" stroke-width="0.9"/>
<line x1="393.40" y1="565.60" x2="397.20" y2="565.60" stroke="#ff9a60" stroke-width="0.9"/>
<line x1="409.00" y1="543.20" x2="409.00" y2="563.60" stroke="#ff9a60" stroke-width="0.9"/>
<line x1="407.10" y1="543.20" x2="410.90" y2="543.20" stroke="#ff9a60" stroke-width="0.9"/>
<line x1="407.10" y1="563.60" x2="410.90" y2="563.60" stroke="#ff9a60" stroke-width="0.9"/>
<line x1="422.10" y1="544.50" x2="422.10" y2="557.90" stroke="#ff9a60" stroke-width="0.9"/>
<line x1="420.20" y1="544.50" x2="424.00" y2="544.50" stroke="#ff9a60" stroke-width="0.9"/>
<line x1="420.20" y1="557.90" x2="424.00" y2="557.90" stroke="#ff9a60" stroke-width="0.9"/>
<line x1="431.50" y1="573.00" x2="431.50" y2="578.00" stroke="#ff9a60" stroke-width="0.9"/>
<line x1="429.60" y1="573.00" x2="433.40" y2="573.00" stroke="#ff9a60" stroke-width="0.9"/>
<line x1="429.60" y1="578.00" x2="433.40" y2="578.00" stroke="#ff9a60" stroke-width="0.9"/>
<line x1="442.30" y1="568.50" x2="442.30" y2="578.00" stroke="#ff9a60" stroke-width="0.9"/>
<line x1="440.40" y1="568.50" x2="444.20" y2="568.50" stroke="#ff9a60" stroke-width="0.9"/>
<line x1="440.40" y1="578.00" x2="444.20" y2="578.00" stroke="#ff9a60" stroke-width="0.9"/>
<line x1="453.00" y1="573.00" x2="453.00" y2="578.00" stroke="#ff9a60" stroke-width="0.9"/>
<line x1="451.10" y1="573.00" x2="454.90" y2="573.00" stroke="#ff9a60" stroke-width="0.9"/>
<line x1="451.10" y1="578.00" x2="454.90" y2="578.00" stroke="#ff9a60" stroke-width="0.9"/>
<line x1="328.10" y1="536.00" x2="328.10" y2="555.20" stroke="#555" stroke-width="1.0"/>
<line x1="326.20" y1="536.00" x2="330.00" y2="536.00" stroke="#555" stroke-width="1.0"/>
<line x1="326.20" y1="555.20" x2="330.00" y2="555.20" stroke="#555" stroke-width="1.0"/>
<line x1="339.00" y1="540.60" x2="339.00" y2="552.40" stroke="#555" stroke-width="1.0"/>
<line x1="337.10" y1="540.60" x2="340.90" y2="540.60" stroke="#555" stroke-width="1.0"/>
<line x1="337.10" y1="552.40" x2="340.90" y2="552.40" stroke="#555" stroke-width="1.0"/>
<line x1="351.10" y1="540.60" x2="351.10" y2="551.70" stroke="#555" stroke-width="1.0"/>
<line x1="349.20" y1="540.60" x2="353.00" y2="540.60" stroke="#555" stroke-width="1.0"/>
<line x1="349.20" y1="551.70" x2="353.00" y2="551.70" stroke="#555" stroke-width="1.0"/>
<line x1="361.90" y1="549.60" x2="361.90" y2="562.30" stroke="#555" stroke-width="1.0"/>
<line x1="360.00" y1="549.60" x2="363.80" y2="549.60" stroke="#555" stroke-width="1.0"/>
<line x1="360.00" y1="562.30" x2="363.80" y2="562.30" stroke="#555" stroke-width="1.0"/>
<line x1="372.50" y1="551.50" x2="372.50" y2="563.90" stroke="#555" stroke-width="1.0"/>
<line x1="370.60" y1="551.50" x2="374.40" y2="551.50" stroke="#555" stroke-width="1.0"/>
<line x1="370.60" y1="563.90" x2="374.40" y2="563.90" stroke="#555" stroke-width="1.0"/>
<line x1="384.30" y1="551.50" x2="384.30" y2="561.60" stroke="#555" stroke-width="1.0"/>
<line x1="382.40" y1="551.50" x2="386.20" y2="551.50" stroke="#555" stroke-width="1.0"/>
<line x1="382.40" y1="561.60" x2="386.20" y2="561.60" stroke="#555" stroke-width="1.0"/>
<line x1="395.30" y1="496.60" x2="395.30" y2="539.40" stroke="#555" stroke-width="1.0"/>
<line x1="393.40" y1="496.60" x2="397.20" y2="496.60" stroke="#555" stroke-width="1.0"/>
<line x1="393.40" y1="539.40" x2="397.20" y2="539.40" stroke="#555" stroke-width="1.0"/>
<line x1="409.00" y1="503.60" x2="409.00" y2="538.50" stroke="#555" stroke-width="1.0"/>
<line x1="407.10" y1="503.60" x2="410.90" y2="503.60" stroke="#555" stroke-width="1.0"/>
<line x1="407.10" y1="538.50" x2="410.90" y2="538.50" stroke="#555" stroke-width="1.0"/>
<line x1="422.10" y1="505.50" x2="422.10" y2="542.60" stroke="#555" stroke-width="1.0"/>
<line x1="420.20" y1="505.50" x2="424.00" y2="505.50" stroke="#555" stroke-width="1.0"/>
<line x1="420.20" y1="542.60" x2="424.00" y2="542.60" stroke="#555" stroke-width="1.0"/>
<line x1="431.50" y1="554.00" x2="431.50" y2="564.00" stroke="#555" stroke-width="1.0"/>
<line x1="429.60" y1="554.00" x2="433.40" y2="554.00" stroke="#555" stroke-width="1.0"/>
<line x1="429.60" y1="564.00" x2="433.40" y2="564.00" stroke="#555" stroke-width="1.0"/>
<line x1="442.30" y1="557.60" x2="442.30" y2="564.40" stroke="#555" stroke-width="1.0"/>
<line x1="440.40" y1="557.60" x2="444.20" y2="557.60" stroke="#555" stroke-width="1.0"/>
<line x1="440.40" y1="564.40" x2="444.20" y2="564.40" stroke="#555" stroke-width="1.0"/>
<line x1="453.00" y1="559.00" x2="453.00" y2="567.50" stroke="#555" stroke-width="1.0"/>
<line x1="451.10" y1="559.00" x2="454.90" y2="559.00" stroke="#555" stroke-width="1.0"/>
<line x1="451.10" y1="567.50" x2="454.90" y2="567.50" stroke="#555" stroke-width="1.0"/>
<polyline points="328.10,569.60 339.00,566.00 351.10,565.50 361.90,571.90 372.50,574.50 384.30,574.70 395.30,556.20 409.00,553.40 422.10,551.50 431.50,575.70 442.30,573.60 453.00,575.70" fill="none" stroke="#FF680B" stroke-width="1.7"/>
<rect x="326.10" y="567.60" width="4.00" height="4.00" fill="#FF680B"/>
<rect x="337.00" y="564.00" width="4.00" height="4.00" fill="#FF680B"/>
<rect x="349.10" y="563.50" width="4.00" height="4.00" fill="#FF680B"/>
<rect x="359.90" y="569.90" width="4.00" height="4.00" fill="#FF680B"/>
<rect x="370.50" y="572.50" width="4.00" height="4.00" fill="#FF680B"/>
<rect x="382.30" y="572.70" width="4.00" height="4.00" fill="#FF680B"/>
<rect x="393.30" y="554.20" width="4.00" height="4.00" fill="#FF680B"/>
<rect x="407.00" y="551.40" width="4.00" height="4.00" fill="#FF680B"/>
<rect x="420.10" y="549.50" width="4.00" height="4.00" fill="#FF680B"/>
<rect x="429.50" y="573.70" width="4.00" height="4.00" fill="#FF680B"/>
<rect x="440.30" y="571.60" width="4.00" height="4.00" fill="#FF680B"/>
<rect x="451.00" y="573.70" width="4.00" height="4.00" fill="#FF680B"/>
<polyline points="328.10,545.30 339.00,546.60 351.10,545.60 361.90,555.90 372.50,557.70 384.30,556.60 395.30,517.90 409.00,520.90 422.10,524.10 431.50,559.20 442.30,561.10 453.00,563.40" fill="none" stroke="#000" stroke-width="1.7"/>
<circle cx="328.10" cy="545.30" r="2.10" fill="#000"/>
<circle cx="339.00" cy="546.60" r="2.10" fill="#000"/>
<circle cx="351.10" cy="545.60" r="2.10" fill="#000"/>
<circle cx="361.90" cy="555.90" r="2.10" fill="#000"/>
<circle cx="372.50" cy="557.70" r="2.10" fill="#000"/>
<circle cx="384.30" cy="556.60" r="2.10" fill="#000"/>
<circle cx="395.30" cy="517.90" r="2.10" fill="#000"/>
<circle cx="409.00" cy="520.90" r="2.10" fill="#000"/>
<circle cx="422.10" cy="524.10" r="2.10" fill="#000"/>
<circle cx="431.50" cy="559.20" r="2.10" fill="#000"/>
<circle cx="442.30" cy="561.10" r="2.10" fill="#000"/>
<circle cx="453.00" cy="563.40" r="2.10" fill="#000"/>
<line x1="594.30" y1="583.40" x2="598.80" y2="583.40" stroke="#111" stroke-width="1.3"/>
<text x="592.80" y="586.90" font-size="10.0" font-weight="bold" text-anchor="end" fill="#000">0.0</text>
<line x1="594.30" y1="557.20" x2="598.80" y2="557.20" stroke="#111" stroke-width="1.3"/>
<text x="592.80" y="560.70" font-size="10.0" font-weight="bold" text-anchor="end" fill="#000">0.5</text>
<line x1="594.30" y1="531.00" x2="598.80" y2="531.00" stroke="#111" stroke-width="1.3"/>
<text x="592.80" y="534.50" font-size="10.0" font-weight="bold" text-anchor="end" fill="#000">1.0</text>
<line x1="594.30" y1="504.80" x2="598.80" y2="504.80" stroke="#111" stroke-width="1.3"/>
<text x="592.80" y="508.30" font-size="10.0" font-weight="bold" text-anchor="end" fill="#000">1.5</text>
<line x1="594.30" y1="478.60" x2="598.80" y2="478.60" stroke="#111" stroke-width="1.3"/>
<text x="592.80" y="482.10" font-size="10.0" font-weight="bold" text-anchor="end" fill="#000">2.0</text>
<path d="M614.65,583.40 L614.65,532.45 L641.95,532.45 L641.95,583.40" fill="#fff" stroke="#000" stroke-width="2.1" stroke-linejoin="miter"/>
<path d="M659.45,583.40 L659.45,503.75 L687.25,503.75 L687.25,583.40" fill="#fff" stroke="#FF680B" stroke-width="2.1" stroke-linejoin="miter"/>
<line x1="598.80" y1="478.00" x2="598.80" y2="584.00" stroke="#111" stroke-width="1.4"/>
<line x1="598.20" y1="583.40" x2="703.60" y2="583.40" stroke="#111" stroke-width="1.4"/>
<line x1="628.60" y1="583.40" x2="628.60" y2="587.90" stroke="#111" stroke-width="1.3"/>
<line x1="673.60" y1="583.40" x2="673.60" y2="587.90" stroke="#111" stroke-width="1.3"/>
<text x="571.30" y="530.20" font-size="10.2" font-weight="bold" text-anchor="middle" fill="#000" transform="rotate(-90 571.30 530.20)">Total ROS (FC)</text>
<text x="627.00" y="477.40" font-size="9.1" font-weight="bold" text-anchor="start" fill="#000"><tspan font-style="italic">P</tspan>&lt;0.0001</text>
<text x="631.90" y="598.40" font-size="10.3" font-weight="bold" text-anchor="end" fill="#000" transform="rotate(-45 631.90 598.40)">Control</text>
<text x="676.90" y="598.40" font-size="10.3" font-weight="bold" text-anchor="end" fill="#000" transform="rotate(-45 676.90 598.40)"><tspan font-style="italic">Acsm3</tspan> KO</text>
<line x1="628.60" y1="526.60" x2="628.60" y2="535.40" stroke="#333" stroke-width="1.0"/>
<line x1="620.20" y1="526.60" x2="637.00" y2="526.60" stroke="#333" stroke-width="1.0"/>
<line x1="620.20" y1="535.40" x2="637.00" y2="535.40" stroke="#333" stroke-width="1.0"/>
<line x1="673.20" y1="496.20" x2="673.20" y2="509.60" stroke="#ff8a40" stroke-width="1.0"/>
<line x1="667.20" y1="496.20" x2="679.20" y2="496.20" stroke="#ff8a40" stroke-width="1.0"/>
<line x1="667.20" y1="509.60" x2="679.20" y2="509.60" stroke="#ff8a40" stroke-width="1.0"/>
<circle cx="619.60" cy="525.60" r="2.10" fill="#000"/>
<circle cx="637.00" cy="525.60" r="2.10" fill="#000"/>
<circle cx="628.60" cy="528.00" r="2.10" fill="#000"/>
<circle cx="628.60" cy="533.60" r="2.10" fill="#000"/>
<circle cx="619.60" cy="536.40" r="2.10" fill="#000"/>
<circle cx="637.00" cy="536.40" r="2.10" fill="#000"/>
<rect x="662.80" y="495.10" width="4.40" height="4.40" fill="#FF680B"/>
<rect x="671.00" y="492.00" width="4.40" height="4.40" fill="#FF680B"/>
<rect x="671.00" y="497.10" width="4.40" height="4.40" fill="#FF680B"/>
<rect x="671.00" y="504.90" width="4.40" height="4.40" fill="#FF680B"/>
<rect x="662.80" y="508.00" width="4.40" height="4.40" fill="#FF680B"/>
<rect x="679.60" y="508.00" width="4.40" height="4.40" fill="#FF680B"/>
<line x1="87.70" y1="779.60" x2="92.20" y2="779.60" stroke="#6a6a6a" stroke-width="1.3"/>
<text x="86.20" y="783.10" font-size="10.0" font-weight="bold" text-anchor="end" fill="#000">0</text>
<line x1="87.70" y1="752.80" x2="92.20" y2="752.80" stroke="#6a6a6a" stroke-width="1.3"/>
<text x="86.20" y="756.30" font-size="10.0" font-weight="bold" text-anchor="end" fill="#000">1</text>
<line x1="87.70" y1="726.00" x2="92.20" y2="726.00" stroke="#6a6a6a" stroke-width="1.3"/>
<text x="86.20" y="729.50" font-size="10.0" font-weight="bold" text-anchor="end" fill="#000">2</text>
<line x1="87.70" y1="699.20" x2="92.20" y2="699.20" stroke="#6a6a6a" stroke-width="1.3"/>
<text x="86.20" y="702.70" font-size="10.0" font-weight="bold" text-anchor="end" fill="#000">3</text>
<line x1="87.70" y1="672.40" x2="92.20" y2="672.40" stroke="#6a6a6a" stroke-width="1.3"/>
<text x="86.20" y="675.90" font-size="10.0" font-weight="bold" text-anchor="end" fill="#000">4</text>
<path d="M108.55,779.60 L108.55,753.95 L136.75,753.95 L136.75,779.60" fill="#fff" stroke="#000" stroke-width="2.1" stroke-linejoin="miter"/>
<path d="M155.45,779.60 L155.45,709.05 L182.55,709.05 L182.55,779.60" fill="#fff" stroke="#FF680B" stroke-width="2.1" stroke-linejoin="miter"/>
<line x1="92.20" y1="671.80" x2="92.20" y2="780.20" stroke="#6a6a6a" stroke-width="1.4"/>
<line x1="91.60" y1="779.60" x2="198.60" y2="779.60" stroke="#6a6a6a" stroke-width="1.4"/>
<line x1="122.40" y1="779.60" x2="122.40" y2="784.10" stroke="#6a6a6a" stroke-width="1.3"/>
<line x1="168.60" y1="779.60" x2="168.60" y2="784.10" stroke="#6a6a6a" stroke-width="1.3"/>
<text x="72.40" y="725.20" font-size="10.2" font-weight="bold" text-anchor="middle" fill="#000" transform="rotate(-90 72.40 725.20)">Mitochondrial ROS (FC)</text>
<text x="116.00" y="683.60" font-size="9.1" font-weight="bold" text-anchor="start" fill="#000"><tspan font-style="italic">P</tspan>&lt;0.0001</text>
<text x="125.70" y="794.60" font-size="10.3" font-weight="bold" text-anchor="end" fill="#000" transform="rotate(-45 125.70 794.60)">Control</text>
<text x="171.90" y="794.60" font-size="10.3" font-weight="bold" text-anchor="end" fill="#000" transform="rotate(-45 171.90 794.60)"><tspan font-style="italic">Acsm3</tspan> KO</text>
<line x1="168.60" y1="695.40" x2="168.60" y2="719.40" stroke="#ff8a40" stroke-width="1.0"/>
<line x1="162.40" y1="695.40" x2="174.80" y2="695.40" stroke="#ff8a40" stroke-width="1.0"/>
<line x1="162.40" y1="719.40" x2="174.80" y2="719.40" stroke="#ff8a40" stroke-width="1.0"/>
<line x1="122.40" y1="751.20" x2="122.40" y2="756.00" stroke="#333" stroke-width="1.0"/>
<line x1="110.40" y1="751.20" x2="134.40" y2="751.20" stroke="#333" stroke-width="1.0"/>
<line x1="110.40" y1="756.00" x2="134.40" y2="756.00" stroke="#333" stroke-width="1.0"/>
<circle cx="109.40" cy="754.40" r="2.10" fill="#000"/>
<circle cx="116.00" cy="751.60" r="2.10" fill="#000"/>
<circle cx="122.40" cy="754.00" r="2.10" fill="#000"/>
<circle cx="129.00" cy="752.40" r="2.10" fill="#000"/>
<circle cx="135.60" cy="750.40" r="2.10" fill="#000"/>
<circle cx="135.60" cy="756.00" r="2.10" fill="#000"/>
<rect x="157.30" y="692.10" width="4.60" height="4.60" fill="#FF680B"/>
<rect x="166.30" y="694.30" width="4.60" height="4.60" fill="#FF680B"/>
<rect x="175.10" y="702.10" width="4.60" height="4.60" fill="#FF680B"/>
<rect x="157.30" y="704.70" width="4.60" height="4.60" fill="#FF680B"/>
<rect x="166.30" y="712.70" width="4.60" height="4.60" fill="#FF680B"/>
<rect x="166.30" y="723.70" width="4.60" height="4.60" fill="#FF680B"/>
<line x1="301.40" y1="780.60" x2="305.90" y2="780.60" stroke="#111" stroke-width="1.3"/>
<text x="299.90" y="784.10" font-size="10.0" font-weight="bold" text-anchor="end" fill="#000">0.0</text>
<line x1="301.40" y1="754.00" x2="305.90" y2="754.00" stroke="#111" stroke-width="1.3"/>
<text x="299.90" y="757.50" font-size="10.0" font-weight="bold" text-anchor="end" fill="#000">0.5</text>
<line x1="301.40" y1="727.40" x2="305.90" y2="727.40" stroke="#111" stroke-width="1.3"/>
<text x="299.90" y="730.90" font-size="10.0" font-weight="bold" text-anchor="end" fill="#000">1.0</text>
<line x1="301.40" y1="700.80" x2="305.90" y2="700.80" stroke="#111" stroke-width="1.3"/>
<text x="299.90" y="704.30" font-size="10.0" font-weight="bold" text-anchor="end" fill="#000">1.5</text>
<line x1="301.40" y1="674.20" x2="305.90" y2="674.20" stroke="#111" stroke-width="1.3"/>
<text x="299.90" y="677.70" font-size="10.0" font-weight="bold" text-anchor="end" fill="#000">2.0</text>
<path d="M322.45,780.60 L322.45,728.45 L349.55,728.45 L349.55,780.60" fill="#fff" stroke="#000" stroke-width="2.1" stroke-linejoin="miter"/>
<path d="M367.65,780.60 L367.65,767.05 L396.35,767.05 L396.35,780.60" fill="#fff" stroke="#FF680B" stroke-width="2.1" stroke-linejoin="miter"/>
<line x1="305.90" y1="673.60" x2="305.90" y2="781.20" stroke="#111" stroke-width="1.4"/>
<line x1="305.30" y1="780.60" x2="413.00" y2="780.60" stroke="#111" stroke-width="1.4"/>
<line x1="336.30" y1="780.60" x2="336.30" y2="785.10" stroke="#111" stroke-width="1.3"/>
<line x1="381.80" y1="780.60" x2="381.80" y2="785.10" stroke="#111" stroke-width="1.3"/>
<text x="279.40" y="723.10" font-size="10.2" font-weight="bold" text-anchor="middle" fill="#000" transform="rotate(-90 279.40 723.10)">ATP content (FC)</text>
<text x="342.00" y="701.00" font-size="9.1" font-weight="bold" text-anchor="start" fill="#000"><tspan font-style="italic">P</tspan>&lt;0.0001</text>
<text x="339.60" y="795.60" font-size="10.3" font-weight="bold" text-anchor="end" fill="#000" transform="rotate(-45 339.60 795.60)">Control</text>
<text x="385.10" y="795.60" font-size="10.3" font-weight="bold" text-anchor="end" fill="#000" transform="rotate(-45 385.10 795.60)"><tspan font-style="italic">Acsm3</tspan> KO</text>
<line x1="336.60" y1="719.40" x2="336.60" y2="735.40" stroke="#333" stroke-width="1.0"/>
<line x1="329.10" y1="719.40" x2="344.10" y2="719.40" stroke="#333" stroke-width="1.0"/>
<line x1="329.10" y1="735.40" x2="344.10" y2="735.40" stroke="#333" stroke-width="1.0"/>
<line x1="382.00" y1="764.00" x2="382.00" y2="767.60" stroke="#ff8a40" stroke-width="1.0"/>
<line x1="374.00" y1="764.00" x2="390.00" y2="764.00" stroke="#ff8a40" stroke-width="1.0"/>
<line x1="374.00" y1="767.60" x2="390.00" y2="767.60" stroke="#ff8a40" stroke-width="1.0"/>
<circle cx="336.60" cy="716.60" r="2.10" fill="#000"/>
<circle cx="327.60" cy="722.00" r="2.10" fill="#000"/>
<circle cx="336.60" cy="724.40" r="2.10" fill="#000"/>
<circle cx="345.00" cy="730.00" r="2.10" fill="#000"/>
<circle cx="336.60" cy="731.00" r="2.10" fill="#000"/>
<circle cx="336.60" cy="738.00" r="2.10" fill="#000"/>
<rect x="367.00" y="761.60" width="4.00" height="4.00" fill="#FF680B"/>
<rect x="375.60" y="763.00" width="4.00" height="4.00" fill="#FF680B"/>
<rect x="384.40" y="760.40" width="4.00" height="4.00" fill="#FF680B"/>
<rect x="384.40" y="765.60" width="4.00" height="4.00" fill="#FF680B"/>
<rect x="393.00" y="764.00" width="4.00" height="4.00" fill="#FF680B"/>
<rect x="367.00" y="765.00" width="4.00" height="4.00" fill="#FF680B"/>
<line x1="511.90" y1="779.40" x2="516.40" y2="779.40" stroke="#111" stroke-width="1.3"/>
<text x="510.40" y="782.90" font-size="10.0" font-weight="bold" text-anchor="end" fill="#000">0.0</text>
<line x1="511.90" y1="753.30" x2="516.40" y2="753.30" stroke="#111" stroke-width="1.3"/>
<text x="510.40" y="756.80" font-size="10.0" font-weight="bold" text-anchor="end" fill="#000">0.5</text>
<line x1="511.90" y1="727.20" x2="516.40" y2="727.20" stroke="#111" stroke-width="1.3"/>
<text x="510.40" y="730.70" font-size="10.0" font-weight="bold" text-anchor="end" fill="#000">1.0</text>
<line x1="511.90" y1="701.10" x2="516.40" y2="701.10" stroke="#111" stroke-width="1.3"/>
<text x="510.40" y="704.60" font-size="10.0" font-weight="bold" text-anchor="end" fill="#000">1.5</text>
<line x1="511.90" y1="675.00" x2="516.40" y2="675.00" stroke="#111" stroke-width="1.3"/>
<text x="510.40" y="678.50" font-size="10.0" font-weight="bold" text-anchor="end" fill="#000">2.0</text>
<path d="M533.05,779.40 L533.05,728.45 L559.55,728.45 L559.55,779.40" fill="#fff" stroke="#000" stroke-width="2.1" stroke-linejoin="miter"/>
<path d="M577.65,779.40 L577.65,750.65 L604.95,750.65 L604.95,779.40" fill="#fff" stroke="#FF680B" stroke-width="2.1" stroke-linejoin="miter"/>
<line x1="516.40" y1="674.40" x2="516.40" y2="780.00" stroke="#111" stroke-width="1.4"/>
<line x1="515.80" y1="779.40" x2="621.40" y2="779.40" stroke="#111" stroke-width="1.4"/>
<line x1="546.40" y1="779.40" x2="546.40" y2="783.90" stroke="#111" stroke-width="1.3"/>
<line x1="591.20" y1="779.40" x2="591.20" y2="783.90" stroke="#111" stroke-width="1.3"/>
<text x="491.00" y="729.50" font-size="10.2" font-weight="bold" text-anchor="middle" fill="#000" transform="rotate(-90 491.00 729.50)">TMRE (FC)</text>
<text x="549.60" y="702.40" font-size="9.1" font-weight="bold" text-anchor="start" fill="#000"><tspan font-style="italic">P</tspan>&lt;0.0001</text>
<text x="549.70" y="794.40" font-size="10.3" font-weight="bold" text-anchor="end" fill="#000" transform="rotate(-45 549.70 794.40)">Control</text>
<text x="594.50" y="794.40" font-size="10.3" font-weight="bold" text-anchor="end" fill="#000" transform="rotate(-45 594.50 794.40)"><tspan font-style="italic">Acsm3</tspan> KO</text>
<line x1="546.60" y1="718.40" x2="546.60" y2="735.60" stroke="#333" stroke-width="1.0"/>
<line x1="539.10" y1="718.40" x2="554.10" y2="718.40" stroke="#333" stroke-width="1.0"/>
<line x1="539.10" y1="735.60" x2="554.10" y2="735.60" stroke="#333" stroke-width="1.0"/>
<circle cx="554.60" cy="715.60" r="2.10" fill="#000"/>
<circle cx="546.60" cy="719.00" r="2.10" fill="#000"/>
<circle cx="546.60" cy="724.40" r="2.10" fill="#000"/>
<circle cx="546.60" cy="729.40" r="2.10" fill="#000"/>
<circle cx="554.60" cy="735.00" r="2.10" fill="#000"/>
<circle cx="538.00" cy="738.00" r="2.10" fill="#000"/>
<rect x="576.00" y="748.00" width="4.00" height="4.00" fill="#FF680B"/>
<rect x="583.00" y="747.60" width="4.00" height="4.00" fill="#FF680B"/>
<rect x="589.00" y="748.60" width="4.00" height="4.00" fill="#FF680B"/>
<rect x="596.00" y="747.80" width="4.00" height="4.00" fill="#FF680B"/>
<rect x="602.00" y="745.40" width="4.00" height="4.00" fill="#FF680B"/>
<rect x="602.00" y="750.60" width="4.00" height="4.00" fill="#FF680B"/>
</svg>
</body></html>
